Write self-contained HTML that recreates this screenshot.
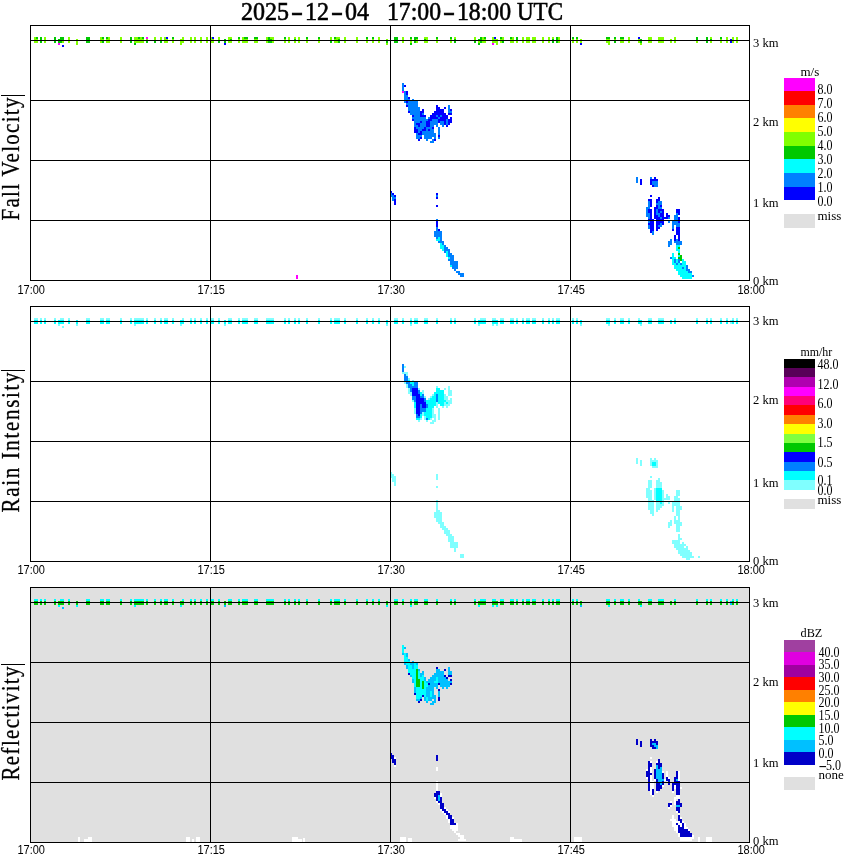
<!DOCTYPE html>
<html lang="en"><head><meta charset="utf-8"><title>MRR 2025-12-04 17:00-18:00 UTC</title>
<style>
html,body{margin:0;padding:0;background:#fff}
body{width:850px;height:868px;position:relative;overflow:hidden;font-family:'Liberation Serif',serif}
svg{display:block}
text{white-space:pre}
</style></head><body>
<svg width="850" height="868" viewBox="0 0 850 868" shape-rendering="crispEdges" style="position:absolute;left:0;top:0">
<rect x="0" y="0" width="850" height="868" fill="#fff"/>
<rect x="30" y="587" width="720" height="256" fill="#e0e0e0"/>
<g id="data0">
<rect x="34" y="37" width="2" height="2" fill="#80ff00"/>
<rect x="36" y="37" width="2" height="2" fill="#00c800"/>
<rect x="40" y="37" width="2" height="2" fill="#00c800"/>
<rect x="44" y="37" width="2" height="2" fill="#80ff00"/>
<rect x="54" y="37" width="2" height="2" fill="#00c800"/>
<rect x="60" y="37" width="4" height="2" fill="#00c800"/>
<rect x="68" y="37" width="2" height="2" fill="#80ff00"/>
<rect x="86" y="37" width="4" height="2" fill="#00c800"/>
<rect x="100" y="37" width="2" height="2" fill="#80ff00"/>
<rect x="102" y="37" width="2" height="2" fill="#00c800"/>
<rect x="106" y="37" width="2" height="2" fill="#00c800"/>
<rect x="108" y="37" width="2" height="2" fill="#80ff00"/>
<rect x="120" y="37" width="2" height="2" fill="#80ff00"/>
<rect x="130" y="37" width="2" height="2" fill="#00c800"/>
<rect x="134" y="37" width="4" height="2" fill="#80ff00"/>
<rect x="138" y="37" width="2" height="2" fill="#00c800"/>
<rect x="140" y="37" width="2" height="2" fill="#80ff00"/>
<rect x="142" y="37" width="2" height="2" fill="#00c800"/>
<rect x="146" y="37" width="2" height="2" fill="#ff00ff"/>
<rect x="154" y="37" width="2" height="2" fill="#80ff00"/>
<rect x="160" y="37" width="2" height="2" fill="#80ff00"/>
<rect x="164" y="37" width="2" height="2" fill="#80ff00"/>
<rect x="166" y="37" width="2" height="2" fill="#0000ff"/>
<rect x="172" y="37" width="2" height="2" fill="#00c800"/>
<rect x="182" y="37" width="2" height="2" fill="#80ff00"/>
<rect x="190" y="37" width="2" height="2" fill="#80ff00"/>
<rect x="194" y="37" width="2" height="2" fill="#80ff00"/>
<rect x="200" y="37" width="2" height="2" fill="#80ff00"/>
<rect x="206" y="37" width="2" height="2" fill="#80ff00"/>
<rect x="210" y="37" width="2" height="2" fill="#80ff00"/>
<rect x="212" y="37" width="2" height="2" fill="#0000ff"/>
<rect x="218" y="37" width="2" height="2" fill="#80ff00"/>
<rect x="228" y="37" width="4" height="2" fill="#80ff00"/>
<rect x="238" y="37" width="2" height="2" fill="#00c800"/>
<rect x="242" y="37" width="2" height="2" fill="#80ff00"/>
<rect x="244" y="37" width="4" height="2" fill="#00c800"/>
<rect x="254" y="37" width="4" height="2" fill="#00c800"/>
<rect x="266" y="37" width="2" height="2" fill="#80ff00"/>
<rect x="268" y="37" width="2" height="2" fill="#00c800"/>
<rect x="270" y="37" width="4" height="2" fill="#80ff00"/>
<rect x="284" y="37" width="2" height="2" fill="#00c800"/>
<rect x="288" y="37" width="2" height="2" fill="#80ff00"/>
<rect x="294" y="37" width="2" height="2" fill="#80ff00"/>
<rect x="298" y="37" width="2" height="2" fill="#80ff00"/>
<rect x="306" y="37" width="2" height="2" fill="#00c800"/>
<rect x="318" y="37" width="2" height="2" fill="#00c800"/>
<rect x="330" y="37" width="2" height="2" fill="#80ff00"/>
<rect x="334" y="37" width="2" height="2" fill="#00c800"/>
<rect x="336" y="37" width="4" height="2" fill="#80ff00"/>
<rect x="344" y="37" width="2" height="2" fill="#80ff00"/>
<rect x="356" y="37" width="2" height="2" fill="#80ff00"/>
<rect x="366" y="37" width="2" height="2" fill="#00c800"/>
<rect x="372" y="37" width="2" height="2" fill="#00c800"/>
<rect x="378" y="37" width="2" height="2" fill="#80ff00"/>
<rect x="394" y="37" width="4" height="2" fill="#00c800"/>
<rect x="402" y="37" width="2" height="2" fill="#80ff00"/>
<rect x="410" y="37" width="2" height="2" fill="#00c800"/>
<rect x="414" y="37" width="4" height="2" fill="#00c800"/>
<rect x="424" y="37" width="4" height="2" fill="#80ff00"/>
<rect x="436" y="37" width="2" height="2" fill="#00c800"/>
<rect x="450" y="37" width="2" height="2" fill="#00c800"/>
<rect x="454" y="37" width="2" height="2" fill="#80ff00"/>
<rect x="474" y="37" width="2" height="2" fill="#80ff00"/>
<rect x="480" y="37" width="2" height="2" fill="#00c800"/>
<rect x="482" y="37" width="2" height="2" fill="#80ff00"/>
<rect x="484" y="37" width="2" height="2" fill="#00c800"/>
<rect x="492" y="37" width="2" height="2" fill="#80ff00"/>
<rect x="494" y="37" width="2" height="2" fill="#0000ff"/>
<rect x="500" y="37" width="2" height="2" fill="#00c800"/>
<rect x="502" y="37" width="2" height="2" fill="#80ff00"/>
<rect x="510" y="37" width="2" height="2" fill="#00c800"/>
<rect x="512" y="37" width="2" height="2" fill="#80ff00"/>
<rect x="516" y="37" width="2" height="2" fill="#00c800"/>
<rect x="522" y="37" width="2" height="2" fill="#80ff00"/>
<rect x="526" y="37" width="4" height="2" fill="#80ff00"/>
<rect x="532" y="37" width="4" height="2" fill="#80ff00"/>
<rect x="542" y="37" width="2" height="2" fill="#80ff00"/>
<rect x="548" y="37" width="2" height="2" fill="#80ff00"/>
<rect x="552" y="37" width="2" height="2" fill="#80ff00"/>
<rect x="556" y="37" width="2" height="2" fill="#00c800"/>
<rect x="558" y="37" width="2" height="2" fill="#80ff00"/>
<rect x="572" y="37" width="2" height="2" fill="#00c800"/>
<rect x="576" y="37" width="2" height="2" fill="#00c800"/>
<rect x="606" y="37" width="4" height="2" fill="#00c800"/>
<rect x="614" y="37" width="2" height="2" fill="#00c800"/>
<rect x="620" y="37" width="4" height="2" fill="#00c800"/>
<rect x="628" y="37" width="2" height="2" fill="#80ff00"/>
<rect x="638" y="37" width="2" height="2" fill="#0000ff"/>
<rect x="648" y="37" width="4" height="2" fill="#80ff00"/>
<rect x="658" y="37" width="6" height="2" fill="#80ff00"/>
<rect x="674" y="37" width="2" height="2" fill="#80ff00"/>
<rect x="696" y="37" width="2" height="2" fill="#00c800"/>
<rect x="706" y="37" width="2" height="2" fill="#00c800"/>
<rect x="710" y="37" width="2" height="2" fill="#80ff00"/>
<rect x="720" y="37" width="2" height="2" fill="#00c800"/>
<rect x="726" y="37" width="2" height="2" fill="#80ff00"/>
<rect x="732" y="37" width="2" height="2" fill="#80ff00"/>
<rect x="736" y="37" width="2" height="2" fill="#80ff00"/>
<rect x="34" y="39" width="4" height="2" fill="#80ff00"/>
<rect x="40" y="39" width="2" height="2" fill="#00c800"/>
<rect x="44" y="39" width="2" height="2" fill="#80ff00"/>
<rect x="54" y="39" width="2" height="2" fill="#00c800"/>
<rect x="58" y="39" width="6" height="2" fill="#00c800"/>
<rect x="68" y="39" width="2" height="2" fill="#80ff00"/>
<rect x="76" y="39" width="2" height="2" fill="#80ff00"/>
<rect x="86" y="39" width="4" height="2" fill="#00c800"/>
<rect x="100" y="39" width="4" height="2" fill="#80ff00"/>
<rect x="106" y="39" width="4" height="2" fill="#80ff00"/>
<rect x="120" y="39" width="2" height="2" fill="#80ff00"/>
<rect x="130" y="39" width="2" height="2" fill="#00c800"/>
<rect x="134" y="39" width="10" height="2" fill="#80ff00"/>
<rect x="146" y="39" width="2" height="2" fill="#80ff00"/>
<rect x="154" y="39" width="2" height="2" fill="#80ff00"/>
<rect x="160" y="39" width="2" height="2" fill="#80ff00"/>
<rect x="164" y="39" width="4" height="2" fill="#80ff00"/>
<rect x="172" y="39" width="2" height="2" fill="#80ff00"/>
<rect x="180" y="39" width="4" height="2" fill="#80ff00"/>
<rect x="190" y="39" width="2" height="2" fill="#80ff00"/>
<rect x="194" y="39" width="2" height="2" fill="#80ff00"/>
<rect x="200" y="39" width="2" height="2" fill="#80ff00"/>
<rect x="206" y="39" width="2" height="2" fill="#80ff00"/>
<rect x="210" y="39" width="4" height="2" fill="#80ff00"/>
<rect x="218" y="39" width="2" height="2" fill="#80ff00"/>
<rect x="224" y="39" width="2" height="2" fill="#00c800"/>
<rect x="228" y="39" width="2" height="2" fill="#80ff00"/>
<rect x="230" y="39" width="2" height="2" fill="#00c800"/>
<rect x="238" y="39" width="2" height="2" fill="#80ff00"/>
<rect x="242" y="39" width="6" height="2" fill="#80ff00"/>
<rect x="254" y="39" width="4" height="2" fill="#80ff00"/>
<rect x="266" y="39" width="2" height="2" fill="#80ff00"/>
<rect x="268" y="39" width="4" height="2" fill="#00c800"/>
<rect x="272" y="39" width="2" height="2" fill="#80ff00"/>
<rect x="284" y="39" width="2" height="2" fill="#80ff00"/>
<rect x="288" y="39" width="2" height="2" fill="#80ff00"/>
<rect x="294" y="39" width="2" height="2" fill="#00c800"/>
<rect x="298" y="39" width="2" height="2" fill="#80ff00"/>
<rect x="306" y="39" width="2" height="2" fill="#80ff00"/>
<rect x="318" y="39" width="2" height="2" fill="#80ff00"/>
<rect x="330" y="39" width="2" height="2" fill="#80ff00"/>
<rect x="334" y="39" width="4" height="2" fill="#80ff00"/>
<rect x="338" y="39" width="2" height="2" fill="#00c800"/>
<rect x="344" y="39" width="2" height="2" fill="#80ff00"/>
<rect x="356" y="39" width="2" height="2" fill="#80ff00"/>
<rect x="366" y="39" width="2" height="2" fill="#80ff00"/>
<rect x="372" y="39" width="2" height="2" fill="#80ff00"/>
<rect x="378" y="39" width="2" height="2" fill="#80ff00"/>
<rect x="386" y="39" width="2" height="2" fill="#80ff00"/>
<rect x="394" y="39" width="4" height="2" fill="#00c800"/>
<rect x="402" y="39" width="2" height="2" fill="#80ff00"/>
<rect x="410" y="39" width="2" height="2" fill="#80ff00"/>
<rect x="414" y="39" width="2" height="2" fill="#00c800"/>
<rect x="416" y="39" width="2" height="2" fill="#80ff00"/>
<rect x="424" y="39" width="2" height="2" fill="#00c800"/>
<rect x="426" y="39" width="2" height="2" fill="#80ff00"/>
<rect x="436" y="39" width="2" height="2" fill="#80ff00"/>
<rect x="450" y="39" width="2" height="2" fill="#80ff00"/>
<rect x="454" y="39" width="2" height="2" fill="#00c800"/>
<rect x="474" y="39" width="2" height="2" fill="#80ff00"/>
<rect x="478" y="39" width="4" height="2" fill="#00c800"/>
<rect x="482" y="39" width="4" height="2" fill="#80ff00"/>
<rect x="492" y="39" width="6" height="2" fill="#80ff00"/>
<rect x="500" y="39" width="4" height="2" fill="#80ff00"/>
<rect x="510" y="39" width="4" height="2" fill="#80ff00"/>
<rect x="516" y="39" width="2" height="2" fill="#00c800"/>
<rect x="522" y="39" width="2" height="2" fill="#80ff00"/>
<rect x="526" y="39" width="4" height="2" fill="#80ff00"/>
<rect x="532" y="39" width="4" height="2" fill="#80ff00"/>
<rect x="542" y="39" width="2" height="2" fill="#80ff00"/>
<rect x="548" y="39" width="2" height="2" fill="#80ff00"/>
<rect x="552" y="39" width="2" height="2" fill="#00c800"/>
<rect x="556" y="39" width="2" height="2" fill="#00c800"/>
<rect x="558" y="39" width="2" height="2" fill="#80ff00"/>
<rect x="572" y="39" width="2" height="2" fill="#80ff00"/>
<rect x="576" y="39" width="2" height="2" fill="#80ff00"/>
<rect x="580" y="39" width="2" height="2" fill="#80ff00"/>
<rect x="606" y="39" width="4" height="2" fill="#80ff00"/>
<rect x="614" y="39" width="2" height="2" fill="#80ff00"/>
<rect x="620" y="39" width="4" height="2" fill="#80ff00"/>
<rect x="628" y="39" width="2" height="2" fill="#80ff00"/>
<rect x="638" y="39" width="2" height="2" fill="#80ff00"/>
<rect x="640" y="39" width="2" height="2" fill="#00c800"/>
<rect x="648" y="39" width="4" height="2" fill="#80ff00"/>
<rect x="658" y="39" width="6" height="2" fill="#80ff00"/>
<rect x="670" y="39" width="2" height="2" fill="#80ff00"/>
<rect x="674" y="39" width="2" height="2" fill="#80ff00"/>
<rect x="696" y="39" width="2" height="2" fill="#00c800"/>
<rect x="706" y="39" width="2" height="2" fill="#00c800"/>
<rect x="710" y="39" width="2" height="2" fill="#00c800"/>
<rect x="720" y="39" width="2" height="2" fill="#80ff00"/>
<rect x="726" y="39" width="2" height="2" fill="#80ff00"/>
<rect x="730" y="39" width="2" height="2" fill="#0000ff"/>
<rect x="732" y="39" width="2" height="2" fill="#80ff00"/>
<rect x="736" y="39" width="2" height="2" fill="#80ff00"/>
<rect x="34" y="41" width="4" height="2" fill="#80ff00"/>
<rect x="40" y="41" width="2" height="2" fill="#00c800"/>
<rect x="44" y="41" width="2" height="2" fill="#80ff00"/>
<rect x="54" y="41" width="2" height="2" fill="#00c800"/>
<rect x="58" y="41" width="4" height="2" fill="#00c800"/>
<rect x="62" y="41" width="2" height="2" fill="#80ff00"/>
<rect x="68" y="41" width="2" height="2" fill="#80ff00"/>
<rect x="76" y="41" width="2" height="2" fill="#80ff00"/>
<rect x="86" y="41" width="4" height="2" fill="#00c800"/>
<rect x="100" y="41" width="2" height="2" fill="#80ff00"/>
<rect x="102" y="41" width="2" height="2" fill="#00c800"/>
<rect x="106" y="41" width="4" height="2" fill="#80ff00"/>
<rect x="120" y="41" width="2" height="2" fill="#80ff00"/>
<rect x="130" y="41" width="2" height="2" fill="#00c800"/>
<rect x="134" y="41" width="10" height="2" fill="#80ff00"/>
<rect x="146" y="41" width="2" height="2" fill="#00c800"/>
<rect x="154" y="41" width="2" height="2" fill="#00c800"/>
<rect x="160" y="41" width="2" height="2" fill="#00c800"/>
<rect x="164" y="41" width="4" height="2" fill="#80ff00"/>
<rect x="172" y="41" width="2" height="2" fill="#80ff00"/>
<rect x="180" y="41" width="4" height="2" fill="#80ff00"/>
<rect x="190" y="41" width="2" height="2" fill="#80ff00"/>
<rect x="194" y="41" width="2" height="2" fill="#80ff00"/>
<rect x="200" y="41" width="2" height="2" fill="#80ff00"/>
<rect x="206" y="41" width="2" height="2" fill="#80ff00"/>
<rect x="210" y="41" width="4" height="2" fill="#80ff00"/>
<rect x="218" y="41" width="2" height="2" fill="#00c800"/>
<rect x="224" y="41" width="2" height="2" fill="#00c800"/>
<rect x="228" y="41" width="4" height="2" fill="#80ff00"/>
<rect x="238" y="41" width="2" height="2" fill="#80ff00"/>
<rect x="242" y="41" width="6" height="2" fill="#80ff00"/>
<rect x="254" y="41" width="4" height="2" fill="#80ff00"/>
<rect x="266" y="41" width="2" height="2" fill="#80ff00"/>
<rect x="268" y="41" width="4" height="2" fill="#00c800"/>
<rect x="272" y="41" width="2" height="2" fill="#80ff00"/>
<rect x="284" y="41" width="2" height="2" fill="#80ff00"/>
<rect x="288" y="41" width="2" height="2" fill="#80ff00"/>
<rect x="294" y="41" width="2" height="2" fill="#80ff00"/>
<rect x="298" y="41" width="2" height="2" fill="#80ff00"/>
<rect x="306" y="41" width="2" height="2" fill="#80ff00"/>
<rect x="318" y="41" width="2" height="2" fill="#80ff00"/>
<rect x="330" y="41" width="2" height="2" fill="#00c800"/>
<rect x="334" y="41" width="4" height="2" fill="#80ff00"/>
<rect x="338" y="41" width="2" height="2" fill="#00c800"/>
<rect x="344" y="41" width="2" height="2" fill="#80ff00"/>
<rect x="356" y="41" width="2" height="2" fill="#80ff00"/>
<rect x="366" y="41" width="2" height="2" fill="#80ff00"/>
<rect x="372" y="41" width="2" height="2" fill="#80ff00"/>
<rect x="378" y="41" width="2" height="2" fill="#80ff00"/>
<rect x="386" y="41" width="2" height="2" fill="#00c800"/>
<rect x="394" y="41" width="4" height="2" fill="#00c800"/>
<rect x="402" y="41" width="2" height="2" fill="#80ff00"/>
<rect x="410" y="41" width="2" height="2" fill="#80ff00"/>
<rect x="414" y="41" width="2" height="2" fill="#00c800"/>
<rect x="416" y="41" width="2" height="2" fill="#80ff00"/>
<rect x="424" y="41" width="4" height="2" fill="#80ff00"/>
<rect x="436" y="41" width="2" height="2" fill="#80ff00"/>
<rect x="450" y="41" width="2" height="2" fill="#80ff00"/>
<rect x="454" y="41" width="2" height="2" fill="#00c800"/>
<rect x="474" y="41" width="2" height="2" fill="#00c800"/>
<rect x="478" y="41" width="2" height="2" fill="#80ff00"/>
<rect x="480" y="41" width="2" height="2" fill="#00c800"/>
<rect x="482" y="41" width="4" height="2" fill="#80ff00"/>
<rect x="492" y="41" width="6" height="2" fill="#80ff00"/>
<rect x="500" y="41" width="2" height="2" fill="#80ff00"/>
<rect x="502" y="41" width="2" height="2" fill="#00c800"/>
<rect x="510" y="41" width="4" height="2" fill="#80ff00"/>
<rect x="516" y="41" width="2" height="2" fill="#80ff00"/>
<rect x="522" y="41" width="2" height="2" fill="#80ff00"/>
<rect x="526" y="41" width="4" height="2" fill="#80ff00"/>
<rect x="532" y="41" width="4" height="2" fill="#80ff00"/>
<rect x="542" y="41" width="2" height="2" fill="#80ff00"/>
<rect x="548" y="41" width="2" height="2" fill="#80ff00"/>
<rect x="552" y="41" width="2" height="2" fill="#00c800"/>
<rect x="556" y="41" width="2" height="2" fill="#00c800"/>
<rect x="558" y="41" width="2" height="2" fill="#80ff00"/>
<rect x="572" y="41" width="2" height="2" fill="#80ff00"/>
<rect x="576" y="41" width="2" height="2" fill="#80ff00"/>
<rect x="580" y="41" width="2" height="2" fill="#80ff00"/>
<rect x="606" y="41" width="4" height="2" fill="#80ff00"/>
<rect x="614" y="41" width="2" height="2" fill="#00c800"/>
<rect x="620" y="41" width="4" height="2" fill="#80ff00"/>
<rect x="628" y="41" width="2" height="2" fill="#80ff00"/>
<rect x="638" y="41" width="2" height="2" fill="#80ff00"/>
<rect x="640" y="41" width="2" height="2" fill="#00c800"/>
<rect x="648" y="41" width="4" height="2" fill="#80ff00"/>
<rect x="658" y="41" width="6" height="2" fill="#80ff00"/>
<rect x="670" y="41" width="2" height="2" fill="#80ff00"/>
<rect x="674" y="41" width="2" height="2" fill="#80ff00"/>
<rect x="696" y="41" width="2" height="2" fill="#80ff00"/>
<rect x="706" y="41" width="2" height="2" fill="#00c800"/>
<rect x="710" y="41" width="2" height="2" fill="#80ff00"/>
<rect x="720" y="41" width="2" height="2" fill="#80ff00"/>
<rect x="726" y="41" width="2" height="2" fill="#80ff00"/>
<rect x="730" y="41" width="2" height="2" fill="#0000ff"/>
<rect x="732" y="41" width="2" height="2" fill="#80ff00"/>
<rect x="736" y="41" width="2" height="2" fill="#80ff00"/>
<rect x="58" y="43" width="2" height="2" fill="#ff00ff"/>
<rect x="76" y="43" width="2" height="2" fill="#80ff00"/>
<rect x="134" y="43" width="2" height="2" fill="#00c800"/>
<rect x="180" y="43" width="2" height="2" fill="#80ff00"/>
<rect x="224" y="43" width="2" height="2" fill="#0000ff"/>
<rect x="386" y="43" width="2" height="2" fill="#80ff00"/>
<rect x="410" y="43" width="2" height="2" fill="#00c800"/>
<rect x="478" y="43" width="2" height="2" fill="#00c800"/>
<rect x="492" y="43" width="2" height="2" fill="#ff00ff"/>
<rect x="496" y="43" width="2" height="2" fill="#80ff00"/>
<rect x="580" y="43" width="2" height="2" fill="#0000ff"/>
<rect x="608" y="43" width="2" height="2" fill="#80ff00"/>
<rect x="640" y="43" width="2" height="2" fill="#80ff00"/>
<rect x="62" y="45" width="2" height="2" fill="#0000ff"/>
<rect x="402" y="83" width="2" height="2" fill="#0080ff"/>
<rect x="402" y="85" width="2" height="2" fill="#0080ff"/>
<rect x="404" y="85" width="2" height="2" fill="#0000ff"/>
<rect x="402" y="87" width="2" height="2" fill="#0080ff"/>
<rect x="402" y="89" width="2" height="2" fill="#0080ff"/>
<rect x="402" y="91" width="2" height="2" fill="#ff00ff"/>
<rect x="404" y="91" width="2" height="2" fill="#0080ff"/>
<rect x="406" y="91" width="2" height="2" fill="#0000ff"/>
<rect x="404" y="93" width="2" height="2" fill="#0080ff"/>
<rect x="406" y="93" width="2" height="2" fill="#0000ff"/>
<rect x="404" y="95" width="4" height="2" fill="#0080ff"/>
<rect x="404" y="97" width="4" height="2" fill="#0080ff"/>
<rect x="408" y="97" width="2" height="2" fill="#0000ff"/>
<rect x="404" y="99" width="6" height="2" fill="#0080ff"/>
<rect x="412" y="99" width="2" height="2" fill="#0080ff"/>
<rect x="404" y="101" width="2" height="2" fill="#0080ff"/>
<rect x="406" y="101" width="2" height="2" fill="#0000ff"/>
<rect x="408" y="101" width="10" height="2" fill="#0080ff"/>
<rect x="406" y="103" width="12" height="2" fill="#0080ff"/>
<rect x="406" y="105" width="2" height="2" fill="#0000ff"/>
<rect x="408" y="105" width="10" height="2" fill="#0080ff"/>
<rect x="436" y="105" width="2" height="2" fill="#0000ff"/>
<rect x="448" y="105" width="2" height="2" fill="#0080ff"/>
<rect x="408" y="107" width="12" height="2" fill="#0080ff"/>
<rect x="436" y="107" width="4" height="2" fill="#0000ff"/>
<rect x="444" y="107" width="2" height="2" fill="#0000ff"/>
<rect x="448" y="107" width="2" height="2" fill="#0080ff"/>
<rect x="408" y="109" width="12" height="2" fill="#0080ff"/>
<rect x="422" y="109" width="2" height="2" fill="#0000ff"/>
<rect x="436" y="109" width="8" height="2" fill="#0000ff"/>
<rect x="448" y="109" width="2" height="2" fill="#0080ff"/>
<rect x="450" y="109" width="2" height="2" fill="#0000ff"/>
<rect x="408" y="111" width="2" height="2" fill="#0000ff"/>
<rect x="410" y="111" width="10" height="2" fill="#0080ff"/>
<rect x="420" y="111" width="4" height="2" fill="#0000ff"/>
<rect x="434" y="111" width="10" height="2" fill="#0000ff"/>
<rect x="448" y="111" width="4" height="2" fill="#0080ff"/>
<rect x="410" y="113" width="10" height="2" fill="#0080ff"/>
<rect x="420" y="113" width="2" height="2" fill="#0000ff"/>
<rect x="422" y="113" width="2" height="2" fill="#0080ff"/>
<rect x="432" y="113" width="14" height="2" fill="#0000ff"/>
<rect x="448" y="113" width="4" height="2" fill="#0000ff"/>
<rect x="412" y="115" width="2" height="2" fill="#0000ff"/>
<rect x="414" y="115" width="6" height="2" fill="#0080ff"/>
<rect x="420" y="115" width="6" height="2" fill="#0000ff"/>
<rect x="430" y="115" width="6" height="2" fill="#0000ff"/>
<rect x="436" y="115" width="2" height="2" fill="#0080ff"/>
<rect x="438" y="115" width="2" height="2" fill="#0000ff"/>
<rect x="440" y="115" width="2" height="2" fill="#0080ff"/>
<rect x="442" y="115" width="6" height="2" fill="#0000ff"/>
<rect x="412" y="117" width="14" height="2" fill="#0080ff"/>
<rect x="428" y="117" width="2" height="2" fill="#0080ff"/>
<rect x="430" y="117" width="8" height="2" fill="#0000ff"/>
<rect x="438" y="117" width="2" height="2" fill="#0080ff"/>
<rect x="440" y="117" width="8" height="2" fill="#0000ff"/>
<rect x="450" y="117" width="2" height="2" fill="#0000ff"/>
<rect x="412" y="119" width="2" height="2" fill="#0000ff"/>
<rect x="414" y="119" width="14" height="2" fill="#0080ff"/>
<rect x="428" y="119" width="4" height="2" fill="#0000ff"/>
<rect x="432" y="119" width="6" height="2" fill="#0080ff"/>
<rect x="438" y="119" width="8" height="2" fill="#0000ff"/>
<rect x="446" y="119" width="2" height="2" fill="#0080ff"/>
<rect x="448" y="119" width="4" height="2" fill="#0000ff"/>
<rect x="414" y="121" width="6" height="2" fill="#0080ff"/>
<rect x="420" y="121" width="2" height="2" fill="#0000ff"/>
<rect x="422" y="121" width="4" height="2" fill="#0080ff"/>
<rect x="426" y="121" width="4" height="2" fill="#0000ff"/>
<rect x="430" y="121" width="8" height="2" fill="#0080ff"/>
<rect x="438" y="121" width="2" height="2" fill="#0000ff"/>
<rect x="440" y="121" width="4" height="2" fill="#0080ff"/>
<rect x="444" y="121" width="2" height="2" fill="#0000ff"/>
<rect x="446" y="121" width="2" height="2" fill="#0080ff"/>
<rect x="448" y="121" width="4" height="2" fill="#0000ff"/>
<rect x="414" y="123" width="2" height="2" fill="#0080ff"/>
<rect x="416" y="123" width="4" height="2" fill="#0000ff"/>
<rect x="420" y="123" width="6" height="2" fill="#0080ff"/>
<rect x="426" y="123" width="4" height="2" fill="#0000ff"/>
<rect x="430" y="123" width="8" height="2" fill="#0080ff"/>
<rect x="440" y="123" width="4" height="2" fill="#0080ff"/>
<rect x="444" y="123" width="2" height="2" fill="#0000ff"/>
<rect x="446" y="123" width="2" height="2" fill="#0080ff"/>
<rect x="448" y="123" width="2" height="2" fill="#0000ff"/>
<rect x="414" y="125" width="4" height="2" fill="#0080ff"/>
<rect x="418" y="125" width="2" height="2" fill="#0000ff"/>
<rect x="420" y="125" width="6" height="2" fill="#0080ff"/>
<rect x="426" y="125" width="4" height="2" fill="#0000ff"/>
<rect x="430" y="125" width="4" height="2" fill="#0080ff"/>
<rect x="436" y="125" width="2" height="2" fill="#0080ff"/>
<rect x="442" y="125" width="2" height="2" fill="#0080ff"/>
<rect x="446" y="125" width="2" height="2" fill="#0000ff"/>
<rect x="414" y="127" width="2" height="2" fill="#0000ff"/>
<rect x="416" y="127" width="8" height="2" fill="#0080ff"/>
<rect x="424" y="127" width="2" height="2" fill="#0000ff"/>
<rect x="426" y="127" width="6" height="2" fill="#0080ff"/>
<rect x="432" y="127" width="2" height="2" fill="#0000ff"/>
<rect x="438" y="127" width="2" height="2" fill="#0080ff"/>
<rect x="414" y="129" width="4" height="2" fill="#0000ff"/>
<rect x="418" y="129" width="4" height="2" fill="#0080ff"/>
<rect x="422" y="129" width="4" height="2" fill="#0000ff"/>
<rect x="426" y="129" width="2" height="2" fill="#0080ff"/>
<rect x="428" y="129" width="2" height="2" fill="#0000ff"/>
<rect x="430" y="129" width="4" height="2" fill="#0080ff"/>
<rect x="438" y="129" width="2" height="2" fill="#0080ff"/>
<rect x="414" y="131" width="4" height="2" fill="#0000ff"/>
<rect x="418" y="131" width="2" height="2" fill="#0080ff"/>
<rect x="420" y="131" width="2" height="2" fill="#0000ff"/>
<rect x="422" y="131" width="12" height="2" fill="#0080ff"/>
<rect x="438" y="131" width="2" height="2" fill="#0080ff"/>
<rect x="416" y="133" width="2" height="2" fill="#0080ff"/>
<rect x="418" y="133" width="4" height="2" fill="#0000ff"/>
<rect x="422" y="133" width="14" height="2" fill="#0080ff"/>
<rect x="438" y="133" width="2" height="2" fill="#0080ff"/>
<rect x="416" y="135" width="6" height="2" fill="#0080ff"/>
<rect x="424" y="135" width="12" height="2" fill="#0080ff"/>
<rect x="438" y="135" width="2" height="2" fill="#0000ff"/>
<rect x="416" y="137" width="4" height="2" fill="#0080ff"/>
<rect x="420" y="137" width="2" height="2" fill="#0000ff"/>
<rect x="424" y="137" width="8" height="2" fill="#0080ff"/>
<rect x="434" y="137" width="2" height="2" fill="#0080ff"/>
<rect x="438" y="137" width="2" height="2" fill="#0080ff"/>
<rect x="418" y="139" width="2" height="2" fill="#0000ff"/>
<rect x="426" y="139" width="2" height="2" fill="#0080ff"/>
<rect x="432" y="139" width="2" height="2" fill="#0080ff"/>
<rect x="434" y="139" width="2" height="2" fill="#0000ff"/>
<rect x="430" y="141" width="4" height="2" fill="#0080ff"/>
<rect x="636" y="177" width="2" height="2" fill="#0080ff"/>
<rect x="650" y="177" width="2" height="2" fill="#0080ff"/>
<rect x="654" y="177" width="2" height="2" fill="#0000ff"/>
<rect x="636" y="179" width="2" height="2" fill="#0080ff"/>
<rect x="640" y="179" width="2" height="2" fill="#0000ff"/>
<rect x="650" y="179" width="8" height="2" fill="#0000ff"/>
<rect x="636" y="181" width="2" height="2" fill="#0080ff"/>
<rect x="640" y="181" width="2" height="2" fill="#0000ff"/>
<rect x="650" y="181" width="2" height="2" fill="#0000ff"/>
<rect x="652" y="181" width="6" height="2" fill="#0080ff"/>
<rect x="640" y="183" width="2" height="2" fill="#0000ff"/>
<rect x="650" y="183" width="2" height="2" fill="#0000ff"/>
<rect x="652" y="183" width="6" height="2" fill="#0080ff"/>
<rect x="652" y="185" width="2" height="2" fill="#0000ff"/>
<rect x="654" y="185" width="4" height="2" fill="#0080ff"/>
<rect x="390" y="191" width="2" height="2" fill="#0000ff"/>
<rect x="390" y="193" width="2" height="2" fill="#0080ff"/>
<rect x="392" y="193" width="2" height="2" fill="#0000ff"/>
<rect x="436" y="193" width="2" height="2" fill="#0000ff"/>
<rect x="390" y="195" width="4" height="2" fill="#0080ff"/>
<rect x="394" y="195" width="2" height="2" fill="#0000ff"/>
<rect x="436" y="195" width="2" height="2" fill="#0080ff"/>
<rect x="650" y="195" width="2" height="2" fill="#0000ff"/>
<rect x="392" y="197" width="4" height="2" fill="#0080ff"/>
<rect x="436" y="197" width="2" height="2" fill="#0000ff"/>
<rect x="658" y="197" width="2" height="2" fill="#0000ff"/>
<rect x="392" y="199" width="2" height="2" fill="#0080ff"/>
<rect x="394" y="199" width="2" height="2" fill="#0000ff"/>
<rect x="648" y="199" width="4" height="2" fill="#0000ff"/>
<rect x="656" y="199" width="4" height="2" fill="#0000ff"/>
<rect x="394" y="201" width="2" height="2" fill="#0000ff"/>
<rect x="648" y="201" width="2" height="2" fill="#0080ff"/>
<rect x="650" y="201" width="2" height="2" fill="#0000ff"/>
<rect x="656" y="201" width="2" height="2" fill="#0000ff"/>
<rect x="658" y="201" width="4" height="2" fill="#0080ff"/>
<rect x="394" y="203" width="2" height="2" fill="#0000ff"/>
<rect x="648" y="203" width="2" height="2" fill="#0080ff"/>
<rect x="650" y="203" width="2" height="2" fill="#0000ff"/>
<rect x="656" y="203" width="6" height="2" fill="#0080ff"/>
<rect x="436" y="205" width="2" height="2" fill="#0000ff"/>
<rect x="648" y="205" width="2" height="2" fill="#0080ff"/>
<rect x="650" y="205" width="2" height="2" fill="#0000ff"/>
<rect x="656" y="205" width="2" height="2" fill="#0000ff"/>
<rect x="658" y="205" width="2" height="2" fill="#0080ff"/>
<rect x="660" y="205" width="2" height="2" fill="#0000ff"/>
<rect x="646" y="207" width="4" height="2" fill="#0080ff"/>
<rect x="654" y="207" width="4" height="2" fill="#0000ff"/>
<rect x="658" y="207" width="4" height="2" fill="#0080ff"/>
<rect x="646" y="209" width="2" height="2" fill="#0080ff"/>
<rect x="648" y="209" width="4" height="2" fill="#0000ff"/>
<rect x="654" y="209" width="2" height="2" fill="#0000ff"/>
<rect x="656" y="209" width="2" height="2" fill="#0080ff"/>
<rect x="658" y="209" width="6" height="2" fill="#0000ff"/>
<rect x="676" y="209" width="4" height="2" fill="#0000ff"/>
<rect x="646" y="211" width="2" height="2" fill="#0080ff"/>
<rect x="648" y="211" width="4" height="2" fill="#0000ff"/>
<rect x="654" y="211" width="2" height="2" fill="#0000ff"/>
<rect x="656" y="211" width="2" height="2" fill="#0080ff"/>
<rect x="658" y="211" width="2" height="2" fill="#0000ff"/>
<rect x="660" y="211" width="2" height="2" fill="#0080ff"/>
<rect x="662" y="211" width="2" height="2" fill="#0000ff"/>
<rect x="676" y="211" width="4" height="2" fill="#0000ff"/>
<rect x="646" y="213" width="4" height="2" fill="#0080ff"/>
<rect x="650" y="213" width="2" height="2" fill="#0000ff"/>
<rect x="654" y="213" width="2" height="2" fill="#0000ff"/>
<rect x="656" y="213" width="4" height="2" fill="#0080ff"/>
<rect x="660" y="213" width="4" height="2" fill="#0000ff"/>
<rect x="666" y="213" width="2" height="2" fill="#0000ff"/>
<rect x="676" y="213" width="2" height="2" fill="#0080ff"/>
<rect x="678" y="213" width="2" height="2" fill="#0000ff"/>
<rect x="646" y="215" width="4" height="2" fill="#0080ff"/>
<rect x="650" y="215" width="2" height="2" fill="#0000ff"/>
<rect x="654" y="215" width="4" height="2" fill="#0000ff"/>
<rect x="658" y="215" width="2" height="2" fill="#0080ff"/>
<rect x="660" y="215" width="4" height="2" fill="#0000ff"/>
<rect x="666" y="215" width="4" height="2" fill="#0000ff"/>
<rect x="674" y="215" width="4" height="2" fill="#0080ff"/>
<rect x="648" y="217" width="2" height="2" fill="#0080ff"/>
<rect x="650" y="217" width="2" height="2" fill="#0000ff"/>
<rect x="654" y="217" width="6" height="2" fill="#0000ff"/>
<rect x="660" y="217" width="2" height="2" fill="#0080ff"/>
<rect x="662" y="217" width="6" height="2" fill="#0000ff"/>
<rect x="668" y="217" width="2" height="2" fill="#0080ff"/>
<rect x="674" y="217" width="4" height="2" fill="#0080ff"/>
<rect x="678" y="217" width="2" height="2" fill="#0000ff"/>
<rect x="436" y="219" width="2" height="2" fill="#0080ff"/>
<rect x="648" y="219" width="6" height="2" fill="#0000ff"/>
<rect x="656" y="219" width="8" height="2" fill="#0000ff"/>
<rect x="674" y="219" width="4" height="2" fill="#0080ff"/>
<rect x="678" y="219" width="2" height="2" fill="#0000ff"/>
<rect x="436" y="221" width="2" height="2" fill="#0000ff"/>
<rect x="648" y="221" width="2" height="2" fill="#0080ff"/>
<rect x="650" y="221" width="4" height="2" fill="#0000ff"/>
<rect x="656" y="221" width="8" height="2" fill="#0000ff"/>
<rect x="668" y="221" width="2" height="2" fill="#0080ff"/>
<rect x="672" y="221" width="6" height="2" fill="#0080ff"/>
<rect x="678" y="221" width="2" height="2" fill="#0000ff"/>
<rect x="436" y="223" width="2" height="2" fill="#0000ff"/>
<rect x="648" y="223" width="6" height="2" fill="#0000ff"/>
<rect x="656" y="223" width="4" height="2" fill="#0000ff"/>
<rect x="660" y="223" width="2" height="2" fill="#0080ff"/>
<rect x="662" y="223" width="2" height="2" fill="#0000ff"/>
<rect x="672" y="223" width="8" height="2" fill="#0080ff"/>
<rect x="436" y="225" width="2" height="2" fill="#0000ff"/>
<rect x="648" y="225" width="2" height="2" fill="#0080ff"/>
<rect x="650" y="225" width="4" height="2" fill="#0000ff"/>
<rect x="656" y="225" width="2" height="2" fill="#0000ff"/>
<rect x="658" y="225" width="4" height="2" fill="#0080ff"/>
<rect x="672" y="225" width="2" height="2" fill="#0080ff"/>
<rect x="676" y="225" width="4" height="2" fill="#0080ff"/>
<rect x="436" y="227" width="2" height="2" fill="#0080ff"/>
<rect x="648" y="227" width="2" height="2" fill="#0080ff"/>
<rect x="650" y="227" width="4" height="2" fill="#0000ff"/>
<rect x="656" y="227" width="4" height="2" fill="#0000ff"/>
<rect x="672" y="227" width="2" height="2" fill="#0080ff"/>
<rect x="676" y="227" width="4" height="2" fill="#0000ff"/>
<rect x="436" y="229" width="2" height="2" fill="#0080ff"/>
<rect x="438" y="229" width="2" height="2" fill="#0000ff"/>
<rect x="650" y="229" width="4" height="2" fill="#0000ff"/>
<rect x="656" y="229" width="2" height="2" fill="#0000ff"/>
<rect x="672" y="229" width="2" height="2" fill="#0000ff"/>
<rect x="676" y="229" width="4" height="2" fill="#0000ff"/>
<rect x="434" y="231" width="8" height="2" fill="#0080ff"/>
<rect x="650" y="231" width="2" height="2" fill="#0000ff"/>
<rect x="652" y="231" width="2" height="2" fill="#0080ff"/>
<rect x="676" y="231" width="4" height="2" fill="#0000ff"/>
<rect x="434" y="233" width="8" height="2" fill="#0080ff"/>
<rect x="652" y="233" width="2" height="2" fill="#0080ff"/>
<rect x="676" y="233" width="4" height="2" fill="#0000ff"/>
<rect x="434" y="235" width="8" height="2" fill="#0080ff"/>
<rect x="674" y="235" width="2" height="2" fill="#0000ff"/>
<rect x="678" y="235" width="2" height="2" fill="#0000ff"/>
<rect x="436" y="237" width="2" height="2" fill="#0080ff"/>
<rect x="438" y="237" width="2" height="2" fill="#00ffff"/>
<rect x="440" y="237" width="2" height="2" fill="#0080ff"/>
<rect x="674" y="237" width="2" height="2" fill="#0000ff"/>
<rect x="678" y="237" width="2" height="2" fill="#0000ff"/>
<rect x="436" y="239" width="4" height="2" fill="#00ffff"/>
<rect x="440" y="239" width="2" height="2" fill="#0080ff"/>
<rect x="670" y="239" width="2" height="2" fill="#0080ff"/>
<rect x="674" y="239" width="2" height="2" fill="#0000ff"/>
<rect x="676" y="239" width="2" height="2" fill="#0080ff"/>
<rect x="678" y="239" width="2" height="2" fill="#0000ff"/>
<rect x="438" y="241" width="6" height="2" fill="#0080ff"/>
<rect x="668" y="241" width="4" height="2" fill="#0080ff"/>
<rect x="674" y="241" width="8" height="2" fill="#0080ff"/>
<rect x="440" y="243" width="2" height="2" fill="#00ffff"/>
<rect x="442" y="243" width="2" height="2" fill="#0080ff"/>
<rect x="668" y="243" width="4" height="2" fill="#0080ff"/>
<rect x="676" y="243" width="6" height="2" fill="#0080ff"/>
<rect x="440" y="245" width="4" height="2" fill="#00ffff"/>
<rect x="444" y="245" width="2" height="2" fill="#0080ff"/>
<rect x="668" y="245" width="2" height="2" fill="#0080ff"/>
<rect x="676" y="245" width="4" height="2" fill="#00ffff"/>
<rect x="440" y="247" width="4" height="2" fill="#00ffff"/>
<rect x="444" y="247" width="4" height="2" fill="#0080ff"/>
<rect x="676" y="247" width="2" height="2" fill="#00ffff"/>
<rect x="678" y="247" width="2" height="2" fill="#00c800"/>
<rect x="442" y="249" width="2" height="2" fill="#00ffff"/>
<rect x="444" y="249" width="6" height="2" fill="#0080ff"/>
<rect x="676" y="249" width="4" height="2" fill="#00ffff"/>
<rect x="444" y="251" width="2" height="2" fill="#0080ff"/>
<rect x="446" y="251" width="2" height="2" fill="#00ffff"/>
<rect x="448" y="251" width="2" height="2" fill="#0080ff"/>
<rect x="678" y="251" width="2" height="2" fill="#00ffff"/>
<rect x="446" y="253" width="2" height="2" fill="#00ffff"/>
<rect x="448" y="253" width="4" height="2" fill="#0080ff"/>
<rect x="672" y="253" width="2" height="2" fill="#00ffff"/>
<rect x="678" y="253" width="2" height="2" fill="#00c800"/>
<rect x="446" y="255" width="2" height="2" fill="#00ffff"/>
<rect x="448" y="255" width="6" height="2" fill="#0080ff"/>
<rect x="672" y="255" width="2" height="2" fill="#00ffff"/>
<rect x="678" y="255" width="2" height="2" fill="#00ffff"/>
<rect x="680" y="255" width="2" height="2" fill="#00c800"/>
<rect x="448" y="257" width="2" height="2" fill="#00ffff"/>
<rect x="450" y="257" width="4" height="2" fill="#0080ff"/>
<rect x="670" y="257" width="2" height="2" fill="#0080ff"/>
<rect x="672" y="257" width="4" height="2" fill="#00ffff"/>
<rect x="678" y="257" width="4" height="2" fill="#00c800"/>
<rect x="448" y="259" width="6" height="2" fill="#0080ff"/>
<rect x="672" y="259" width="2" height="2" fill="#00ffff"/>
<rect x="674" y="259" width="2" height="2" fill="#0080ff"/>
<rect x="676" y="259" width="2" height="2" fill="#00ffff"/>
<rect x="678" y="259" width="2" height="2" fill="#0080ff"/>
<rect x="680" y="259" width="2" height="2" fill="#00c800"/>
<rect x="682" y="259" width="2" height="2" fill="#00ffff"/>
<rect x="450" y="261" width="8" height="2" fill="#0080ff"/>
<rect x="672" y="261" width="2" height="2" fill="#00ffff"/>
<rect x="674" y="261" width="2" height="2" fill="#0080ff"/>
<rect x="676" y="261" width="2" height="2" fill="#00ffff"/>
<rect x="678" y="261" width="2" height="2" fill="#0080ff"/>
<rect x="682" y="261" width="4" height="2" fill="#00ffff"/>
<rect x="450" y="263" width="8" height="2" fill="#0080ff"/>
<rect x="672" y="263" width="4" height="2" fill="#00ffff"/>
<rect x="676" y="263" width="2" height="2" fill="#0080ff"/>
<rect x="678" y="263" width="2" height="2" fill="#00ffff"/>
<rect x="680" y="263" width="2" height="2" fill="#0080ff"/>
<rect x="682" y="263" width="4" height="2" fill="#00ffff"/>
<rect x="450" y="265" width="2" height="2" fill="#00ffff"/>
<rect x="452" y="265" width="6" height="2" fill="#0080ff"/>
<rect x="674" y="265" width="12" height="2" fill="#00ffff"/>
<rect x="686" y="265" width="2" height="2" fill="#0080ff"/>
<rect x="452" y="267" width="6" height="2" fill="#0080ff"/>
<rect x="674" y="267" width="8" height="2" fill="#00ffff"/>
<rect x="682" y="267" width="2" height="2" fill="#0080ff"/>
<rect x="684" y="267" width="2" height="2" fill="#00ffff"/>
<rect x="686" y="267" width="2" height="2" fill="#0080ff"/>
<rect x="454" y="269" width="2" height="2" fill="#0080ff"/>
<rect x="676" y="269" width="10" height="2" fill="#00ffff"/>
<rect x="686" y="269" width="4" height="2" fill="#0080ff"/>
<rect x="456" y="271" width="4" height="2" fill="#0080ff"/>
<rect x="678" y="271" width="10" height="2" fill="#00ffff"/>
<rect x="688" y="271" width="4" height="2" fill="#0080ff"/>
<rect x="458" y="273" width="6" height="2" fill="#0080ff"/>
<rect x="678" y="273" width="14" height="2" fill="#00ffff"/>
<rect x="296" y="275" width="2" height="2" fill="#ff00ff"/>
<rect x="460" y="275" width="4" height="2" fill="#0080ff"/>
<rect x="680" y="275" width="12" height="2" fill="#00ffff"/>
<rect x="692" y="275" width="2" height="2" fill="#0080ff"/>
<rect x="296" y="277" width="2" height="2" fill="#ff00ff"/>
<rect x="682" y="277" width="10" height="2" fill="#00ffff"/>
</g>
<g id="data1">
<rect x="34" y="318" width="4" height="2" fill="#80ffff"/>
<rect x="40" y="318" width="2" height="2" fill="#80ffff"/>
<rect x="44" y="318" width="2" height="2" fill="#80ffff"/>
<rect x="54" y="318" width="2" height="2" fill="#80ffff"/>
<rect x="60" y="318" width="4" height="2" fill="#80ffff"/>
<rect x="68" y="318" width="2" height="2" fill="#80ffff"/>
<rect x="86" y="318" width="4" height="2" fill="#80ffff"/>
<rect x="100" y="318" width="4" height="2" fill="#80ffff"/>
<rect x="106" y="318" width="4" height="2" fill="#80ffff"/>
<rect x="120" y="318" width="2" height="2" fill="#80ffff"/>
<rect x="130" y="318" width="2" height="2" fill="#80ffff"/>
<rect x="134" y="318" width="10" height="2" fill="#80ffff"/>
<rect x="146" y="318" width="2" height="2" fill="#80ffff"/>
<rect x="154" y="318" width="2" height="2" fill="#80ffff"/>
<rect x="160" y="318" width="2" height="2" fill="#80ffff"/>
<rect x="164" y="318" width="4" height="2" fill="#80ffff"/>
<rect x="172" y="318" width="2" height="2" fill="#80ffff"/>
<rect x="182" y="318" width="2" height="2" fill="#80ffff"/>
<rect x="190" y="318" width="2" height="2" fill="#80ffff"/>
<rect x="194" y="318" width="2" height="2" fill="#80ffff"/>
<rect x="200" y="318" width="2" height="2" fill="#80ffff"/>
<rect x="206" y="318" width="2" height="2" fill="#80ffff"/>
<rect x="210" y="318" width="4" height="2" fill="#80ffff"/>
<rect x="218" y="318" width="2" height="2" fill="#80ffff"/>
<rect x="228" y="318" width="4" height="2" fill="#80ffff"/>
<rect x="238" y="318" width="2" height="2" fill="#80ffff"/>
<rect x="242" y="318" width="6" height="2" fill="#80ffff"/>
<rect x="254" y="318" width="4" height="2" fill="#80ffff"/>
<rect x="266" y="318" width="8" height="2" fill="#80ffff"/>
<rect x="284" y="318" width="2" height="2" fill="#80ffff"/>
<rect x="288" y="318" width="2" height="2" fill="#80ffff"/>
<rect x="294" y="318" width="2" height="2" fill="#80ffff"/>
<rect x="298" y="318" width="2" height="2" fill="#80ffff"/>
<rect x="306" y="318" width="2" height="2" fill="#80ffff"/>
<rect x="318" y="318" width="2" height="2" fill="#80ffff"/>
<rect x="330" y="318" width="2" height="2" fill="#80ffff"/>
<rect x="334" y="318" width="6" height="2" fill="#80ffff"/>
<rect x="344" y="318" width="2" height="2" fill="#80ffff"/>
<rect x="356" y="318" width="2" height="2" fill="#80ffff"/>
<rect x="366" y="318" width="2" height="2" fill="#80ffff"/>
<rect x="372" y="318" width="2" height="2" fill="#80ffff"/>
<rect x="378" y="318" width="2" height="2" fill="#80ffff"/>
<rect x="394" y="318" width="4" height="2" fill="#80ffff"/>
<rect x="402" y="318" width="2" height="2" fill="#80ffff"/>
<rect x="410" y="318" width="2" height="2" fill="#80ffff"/>
<rect x="414" y="318" width="4" height="2" fill="#80ffff"/>
<rect x="424" y="318" width="4" height="2" fill="#80ffff"/>
<rect x="436" y="318" width="2" height="2" fill="#80ffff"/>
<rect x="450" y="318" width="2" height="2" fill="#80ffff"/>
<rect x="454" y="318" width="2" height="2" fill="#80ffff"/>
<rect x="474" y="318" width="2" height="2" fill="#80ffff"/>
<rect x="480" y="318" width="6" height="2" fill="#80ffff"/>
<rect x="492" y="318" width="4" height="2" fill="#80ffff"/>
<rect x="500" y="318" width="4" height="2" fill="#80ffff"/>
<rect x="510" y="318" width="4" height="2" fill="#80ffff"/>
<rect x="516" y="318" width="2" height="2" fill="#80ffff"/>
<rect x="522" y="318" width="2" height="2" fill="#80ffff"/>
<rect x="526" y="318" width="4" height="2" fill="#80ffff"/>
<rect x="532" y="318" width="4" height="2" fill="#80ffff"/>
<rect x="542" y="318" width="2" height="2" fill="#80ffff"/>
<rect x="548" y="318" width="2" height="2" fill="#80ffff"/>
<rect x="552" y="318" width="2" height="2" fill="#80ffff"/>
<rect x="556" y="318" width="4" height="2" fill="#80ffff"/>
<rect x="572" y="318" width="2" height="2" fill="#80ffff"/>
<rect x="576" y="318" width="2" height="2" fill="#80ffff"/>
<rect x="606" y="318" width="4" height="2" fill="#80ffff"/>
<rect x="614" y="318" width="2" height="2" fill="#80ffff"/>
<rect x="620" y="318" width="4" height="2" fill="#80ffff"/>
<rect x="628" y="318" width="2" height="2" fill="#80ffff"/>
<rect x="638" y="318" width="2" height="2" fill="#80ffff"/>
<rect x="648" y="318" width="4" height="2" fill="#80ffff"/>
<rect x="658" y="318" width="6" height="2" fill="#80ffff"/>
<rect x="674" y="318" width="2" height="2" fill="#80ffff"/>
<rect x="696" y="318" width="2" height="2" fill="#80ffff"/>
<rect x="706" y="318" width="2" height="2" fill="#80ffff"/>
<rect x="710" y="318" width="2" height="2" fill="#80ffff"/>
<rect x="720" y="318" width="2" height="2" fill="#80ffff"/>
<rect x="726" y="318" width="2" height="2" fill="#80ffff"/>
<rect x="732" y="318" width="2" height="2" fill="#80ffff"/>
<rect x="736" y="318" width="2" height="2" fill="#80ffff"/>
<rect x="34" y="320" width="4" height="2" fill="#00ffff"/>
<rect x="40" y="320" width="2" height="2" fill="#00ffff"/>
<rect x="44" y="320" width="2" height="2" fill="#00ffff"/>
<rect x="54" y="320" width="2" height="2" fill="#00ffff"/>
<rect x="58" y="320" width="6" height="2" fill="#00ffff"/>
<rect x="68" y="320" width="2" height="2" fill="#00ffff"/>
<rect x="76" y="320" width="2" height="2" fill="#00ffff"/>
<rect x="86" y="320" width="4" height="2" fill="#00ffff"/>
<rect x="100" y="320" width="4" height="2" fill="#00ffff"/>
<rect x="106" y="320" width="4" height="2" fill="#00ffff"/>
<rect x="120" y="320" width="2" height="2" fill="#00ffff"/>
<rect x="130" y="320" width="2" height="2" fill="#00ffff"/>
<rect x="134" y="320" width="10" height="2" fill="#00ffff"/>
<rect x="146" y="320" width="2" height="2" fill="#00ffff"/>
<rect x="154" y="320" width="2" height="2" fill="#00ffff"/>
<rect x="160" y="320" width="2" height="2" fill="#00ffff"/>
<rect x="164" y="320" width="4" height="2" fill="#00ffff"/>
<rect x="172" y="320" width="2" height="2" fill="#00ffff"/>
<rect x="180" y="320" width="4" height="2" fill="#00ffff"/>
<rect x="190" y="320" width="2" height="2" fill="#00ffff"/>
<rect x="194" y="320" width="2" height="2" fill="#00ffff"/>
<rect x="200" y="320" width="2" height="2" fill="#00ffff"/>
<rect x="206" y="320" width="2" height="2" fill="#00ffff"/>
<rect x="210" y="320" width="4" height="2" fill="#00ffff"/>
<rect x="218" y="320" width="2" height="2" fill="#00ffff"/>
<rect x="224" y="320" width="2" height="2" fill="#00ffff"/>
<rect x="228" y="320" width="4" height="2" fill="#00ffff"/>
<rect x="238" y="320" width="2" height="2" fill="#00ffff"/>
<rect x="242" y="320" width="6" height="2" fill="#00ffff"/>
<rect x="254" y="320" width="4" height="2" fill="#00ffff"/>
<rect x="266" y="320" width="8" height="2" fill="#00ffff"/>
<rect x="284" y="320" width="2" height="2" fill="#00ffff"/>
<rect x="288" y="320" width="2" height="2" fill="#00ffff"/>
<rect x="294" y="320" width="2" height="2" fill="#00ffff"/>
<rect x="298" y="320" width="2" height="2" fill="#00ffff"/>
<rect x="306" y="320" width="2" height="2" fill="#00ffff"/>
<rect x="318" y="320" width="2" height="2" fill="#00ffff"/>
<rect x="330" y="320" width="2" height="2" fill="#00ffff"/>
<rect x="334" y="320" width="6" height="2" fill="#00ffff"/>
<rect x="344" y="320" width="2" height="2" fill="#00ffff"/>
<rect x="356" y="320" width="2" height="2" fill="#00ffff"/>
<rect x="366" y="320" width="2" height="2" fill="#00ffff"/>
<rect x="372" y="320" width="2" height="2" fill="#00ffff"/>
<rect x="378" y="320" width="2" height="2" fill="#00ffff"/>
<rect x="386" y="320" width="2" height="2" fill="#00ffff"/>
<rect x="394" y="320" width="4" height="2" fill="#00ffff"/>
<rect x="402" y="320" width="2" height="2" fill="#00ffff"/>
<rect x="410" y="320" width="2" height="2" fill="#00ffff"/>
<rect x="414" y="320" width="4" height="2" fill="#00ffff"/>
<rect x="424" y="320" width="4" height="2" fill="#00ffff"/>
<rect x="436" y="320" width="2" height="2" fill="#00ffff"/>
<rect x="450" y="320" width="2" height="2" fill="#00ffff"/>
<rect x="454" y="320" width="2" height="2" fill="#00ffff"/>
<rect x="474" y="320" width="2" height="2" fill="#00ffff"/>
<rect x="478" y="320" width="8" height="2" fill="#00ffff"/>
<rect x="492" y="320" width="6" height="2" fill="#00ffff"/>
<rect x="500" y="320" width="4" height="2" fill="#00ffff"/>
<rect x="510" y="320" width="4" height="2" fill="#00ffff"/>
<rect x="516" y="320" width="2" height="2" fill="#00ffff"/>
<rect x="522" y="320" width="2" height="2" fill="#00ffff"/>
<rect x="526" y="320" width="4" height="2" fill="#00ffff"/>
<rect x="532" y="320" width="4" height="2" fill="#00ffff"/>
<rect x="542" y="320" width="2" height="2" fill="#00ffff"/>
<rect x="548" y="320" width="2" height="2" fill="#00ffff"/>
<rect x="552" y="320" width="2" height="2" fill="#00ffff"/>
<rect x="556" y="320" width="4" height="2" fill="#00ffff"/>
<rect x="572" y="320" width="2" height="2" fill="#00ffff"/>
<rect x="576" y="320" width="2" height="2" fill="#00ffff"/>
<rect x="580" y="320" width="2" height="2" fill="#00ffff"/>
<rect x="606" y="320" width="4" height="2" fill="#00ffff"/>
<rect x="614" y="320" width="2" height="2" fill="#00ffff"/>
<rect x="620" y="320" width="4" height="2" fill="#00ffff"/>
<rect x="628" y="320" width="2" height="2" fill="#00ffff"/>
<rect x="638" y="320" width="4" height="2" fill="#00ffff"/>
<rect x="648" y="320" width="4" height="2" fill="#00ffff"/>
<rect x="658" y="320" width="6" height="2" fill="#00ffff"/>
<rect x="670" y="320" width="2" height="2" fill="#00ffff"/>
<rect x="674" y="320" width="2" height="2" fill="#00ffff"/>
<rect x="696" y="320" width="2" height="2" fill="#00ffff"/>
<rect x="706" y="320" width="2" height="2" fill="#00ffff"/>
<rect x="710" y="320" width="2" height="2" fill="#00ffff"/>
<rect x="720" y="320" width="2" height="2" fill="#00ffff"/>
<rect x="726" y="320" width="2" height="2" fill="#00ffff"/>
<rect x="730" y="320" width="2" height="2" fill="#80ffff"/>
<rect x="732" y="320" width="2" height="2" fill="#00ffff"/>
<rect x="736" y="320" width="2" height="2" fill="#00ffff"/>
<rect x="34" y="322" width="4" height="2" fill="#00ffff"/>
<rect x="40" y="322" width="2" height="2" fill="#00ffff"/>
<rect x="44" y="322" width="2" height="2" fill="#00ffff"/>
<rect x="54" y="322" width="2" height="2" fill="#00ffff"/>
<rect x="58" y="322" width="6" height="2" fill="#00ffff"/>
<rect x="68" y="322" width="2" height="2" fill="#00ffff"/>
<rect x="76" y="322" width="2" height="2" fill="#00ffff"/>
<rect x="86" y="322" width="4" height="2" fill="#00ffff"/>
<rect x="100" y="322" width="4" height="2" fill="#00ffff"/>
<rect x="106" y="322" width="4" height="2" fill="#00ffff"/>
<rect x="120" y="322" width="2" height="2" fill="#00ffff"/>
<rect x="130" y="322" width="2" height="2" fill="#00ffff"/>
<rect x="134" y="322" width="10" height="2" fill="#00ffff"/>
<rect x="146" y="322" width="2" height="2" fill="#00ffff"/>
<rect x="154" y="322" width="2" height="2" fill="#00ffff"/>
<rect x="160" y="322" width="2" height="2" fill="#00ffff"/>
<rect x="164" y="322" width="4" height="2" fill="#00ffff"/>
<rect x="172" y="322" width="2" height="2" fill="#00ffff"/>
<rect x="180" y="322" width="4" height="2" fill="#00ffff"/>
<rect x="190" y="322" width="2" height="2" fill="#00ffff"/>
<rect x="194" y="322" width="2" height="2" fill="#00ffff"/>
<rect x="200" y="322" width="2" height="2" fill="#00ffff"/>
<rect x="206" y="322" width="2" height="2" fill="#00ffff"/>
<rect x="210" y="322" width="4" height="2" fill="#00ffff"/>
<rect x="218" y="322" width="2" height="2" fill="#00ffff"/>
<rect x="224" y="322" width="2" height="2" fill="#00ffff"/>
<rect x="228" y="322" width="4" height="2" fill="#00ffff"/>
<rect x="238" y="322" width="2" height="2" fill="#00ffff"/>
<rect x="242" y="322" width="6" height="2" fill="#00ffff"/>
<rect x="254" y="322" width="4" height="2" fill="#00ffff"/>
<rect x="266" y="322" width="8" height="2" fill="#00ffff"/>
<rect x="284" y="322" width="2" height="2" fill="#00ffff"/>
<rect x="288" y="322" width="2" height="2" fill="#00ffff"/>
<rect x="294" y="322" width="2" height="2" fill="#00ffff"/>
<rect x="298" y="322" width="2" height="2" fill="#00ffff"/>
<rect x="306" y="322" width="2" height="2" fill="#00ffff"/>
<rect x="318" y="322" width="2" height="2" fill="#00ffff"/>
<rect x="330" y="322" width="2" height="2" fill="#00ffff"/>
<rect x="334" y="322" width="6" height="2" fill="#00ffff"/>
<rect x="344" y="322" width="2" height="2" fill="#00ffff"/>
<rect x="356" y="322" width="2" height="2" fill="#00ffff"/>
<rect x="366" y="322" width="2" height="2" fill="#00ffff"/>
<rect x="372" y="322" width="2" height="2" fill="#00ffff"/>
<rect x="378" y="322" width="2" height="2" fill="#00ffff"/>
<rect x="386" y="322" width="2" height="2" fill="#00ffff"/>
<rect x="394" y="322" width="4" height="2" fill="#00ffff"/>
<rect x="402" y="322" width="2" height="2" fill="#00ffff"/>
<rect x="410" y="322" width="2" height="2" fill="#00ffff"/>
<rect x="414" y="322" width="4" height="2" fill="#00ffff"/>
<rect x="424" y="322" width="4" height="2" fill="#00ffff"/>
<rect x="436" y="322" width="2" height="2" fill="#00ffff"/>
<rect x="450" y="322" width="2" height="2" fill="#00ffff"/>
<rect x="454" y="322" width="2" height="2" fill="#00ffff"/>
<rect x="474" y="322" width="2" height="2" fill="#00ffff"/>
<rect x="478" y="322" width="8" height="2" fill="#00ffff"/>
<rect x="492" y="322" width="6" height="2" fill="#00ffff"/>
<rect x="500" y="322" width="4" height="2" fill="#00ffff"/>
<rect x="510" y="322" width="4" height="2" fill="#00ffff"/>
<rect x="516" y="322" width="2" height="2" fill="#00ffff"/>
<rect x="522" y="322" width="2" height="2" fill="#00ffff"/>
<rect x="526" y="322" width="4" height="2" fill="#00ffff"/>
<rect x="532" y="322" width="4" height="2" fill="#00ffff"/>
<rect x="542" y="322" width="2" height="2" fill="#00ffff"/>
<rect x="548" y="322" width="2" height="2" fill="#00ffff"/>
<rect x="552" y="322" width="2" height="2" fill="#00ffff"/>
<rect x="556" y="322" width="4" height="2" fill="#00ffff"/>
<rect x="572" y="322" width="2" height="2" fill="#00ffff"/>
<rect x="576" y="322" width="2" height="2" fill="#00ffff"/>
<rect x="580" y="322" width="2" height="2" fill="#00ffff"/>
<rect x="606" y="322" width="4" height="2" fill="#00ffff"/>
<rect x="614" y="322" width="2" height="2" fill="#00ffff"/>
<rect x="620" y="322" width="4" height="2" fill="#00ffff"/>
<rect x="628" y="322" width="2" height="2" fill="#00ffff"/>
<rect x="638" y="322" width="4" height="2" fill="#00ffff"/>
<rect x="648" y="322" width="4" height="2" fill="#00ffff"/>
<rect x="658" y="322" width="6" height="2" fill="#00ffff"/>
<rect x="670" y="322" width="2" height="2" fill="#00ffff"/>
<rect x="674" y="322" width="2" height="2" fill="#00ffff"/>
<rect x="696" y="322" width="2" height="2" fill="#00ffff"/>
<rect x="706" y="322" width="2" height="2" fill="#00ffff"/>
<rect x="710" y="322" width="2" height="2" fill="#00ffff"/>
<rect x="720" y="322" width="2" height="2" fill="#00ffff"/>
<rect x="726" y="322" width="2" height="2" fill="#00ffff"/>
<rect x="730" y="322" width="2" height="2" fill="#80ffff"/>
<rect x="732" y="322" width="2" height="2" fill="#00ffff"/>
<rect x="736" y="322" width="2" height="2" fill="#00ffff"/>
<rect x="58" y="324" width="2" height="2" fill="#80ffff"/>
<rect x="76" y="324" width="2" height="2" fill="#80ffff"/>
<rect x="134" y="324" width="2" height="2" fill="#80ffff"/>
<rect x="180" y="324" width="2" height="2" fill="#80ffff"/>
<rect x="224" y="324" width="2" height="2" fill="#80ffff"/>
<rect x="386" y="324" width="2" height="2" fill="#80ffff"/>
<rect x="410" y="324" width="2" height="2" fill="#80ffff"/>
<rect x="478" y="324" width="2" height="2" fill="#80ffff"/>
<rect x="492" y="324" width="2" height="2" fill="#80ffff"/>
<rect x="496" y="324" width="2" height="2" fill="#80ffff"/>
<rect x="580" y="324" width="2" height="2" fill="#80ffff"/>
<rect x="608" y="324" width="2" height="2" fill="#80ffff"/>
<rect x="640" y="324" width="2" height="2" fill="#80ffff"/>
<rect x="62" y="326" width="2" height="2" fill="#80ffff"/>
<rect x="402" y="364" width="2" height="2" fill="#0080ff"/>
<rect x="402" y="366" width="2" height="2" fill="#0080ff"/>
<rect x="404" y="366" width="2" height="2" fill="#80ffff"/>
<rect x="402" y="368" width="2" height="2" fill="#0080ff"/>
<rect x="402" y="370" width="2" height="2" fill="#0080ff"/>
<rect x="402" y="372" width="6" height="2" fill="#80ffff"/>
<rect x="404" y="374" width="2" height="2" fill="#0080ff"/>
<rect x="406" y="374" width="2" height="2" fill="#80ffff"/>
<rect x="404" y="376" width="4" height="2" fill="#0080ff"/>
<rect x="404" y="378" width="4" height="2" fill="#0080ff"/>
<rect x="408" y="378" width="2" height="2" fill="#80ffff"/>
<rect x="404" y="380" width="4" height="2" fill="#0080ff"/>
<rect x="408" y="380" width="2" height="2" fill="#00ffff"/>
<rect x="412" y="380" width="2" height="2" fill="#80ffff"/>
<rect x="404" y="382" width="2" height="2" fill="#80ffff"/>
<rect x="406" y="382" width="4" height="2" fill="#0080ff"/>
<rect x="410" y="382" width="4" height="2" fill="#00ffff"/>
<rect x="414" y="382" width="4" height="2" fill="#0080ff"/>
<rect x="406" y="384" width="2" height="2" fill="#80ffff"/>
<rect x="408" y="384" width="4" height="2" fill="#0080ff"/>
<rect x="412" y="384" width="2" height="2" fill="#00ffff"/>
<rect x="414" y="384" width="4" height="2" fill="#0080ff"/>
<rect x="406" y="386" width="2" height="2" fill="#80ffff"/>
<rect x="408" y="386" width="10" height="2" fill="#0080ff"/>
<rect x="436" y="386" width="2" height="2" fill="#80ffff"/>
<rect x="448" y="386" width="2" height="2" fill="#80ffff"/>
<rect x="408" y="388" width="2" height="2" fill="#80ffff"/>
<rect x="410" y="388" width="2" height="2" fill="#0080ff"/>
<rect x="412" y="388" width="6" height="2" fill="#0000ff"/>
<rect x="418" y="388" width="2" height="2" fill="#80ffff"/>
<rect x="436" y="388" width="4" height="2" fill="#00ffff"/>
<rect x="444" y="388" width="2" height="2" fill="#80ffff"/>
<rect x="448" y="388" width="2" height="2" fill="#80ffff"/>
<rect x="408" y="390" width="2" height="2" fill="#80ffff"/>
<rect x="410" y="390" width="2" height="2" fill="#0080ff"/>
<rect x="412" y="390" width="6" height="2" fill="#0000ff"/>
<rect x="418" y="390" width="2" height="2" fill="#0080ff"/>
<rect x="422" y="390" width="2" height="2" fill="#80ffff"/>
<rect x="436" y="390" width="8" height="2" fill="#00ffff"/>
<rect x="448" y="390" width="4" height="2" fill="#80ffff"/>
<rect x="408" y="392" width="4" height="2" fill="#80ffff"/>
<rect x="412" y="392" width="6" height="2" fill="#0000ff"/>
<rect x="418" y="392" width="2" height="2" fill="#0080ff"/>
<rect x="420" y="392" width="2" height="2" fill="#00ffff"/>
<rect x="422" y="392" width="2" height="2" fill="#80ffff"/>
<rect x="434" y="392" width="10" height="2" fill="#00ffff"/>
<rect x="448" y="392" width="4" height="2" fill="#80ffff"/>
<rect x="410" y="394" width="2" height="2" fill="#80ffff"/>
<rect x="412" y="394" width="8" height="2" fill="#0000ff"/>
<rect x="420" y="394" width="2" height="2" fill="#00ffff"/>
<rect x="422" y="394" width="2" height="2" fill="#0080ff"/>
<rect x="432" y="394" width="2" height="2" fill="#80ffff"/>
<rect x="434" y="394" width="2" height="2" fill="#00ffff"/>
<rect x="436" y="394" width="2" height="2" fill="#0080ff"/>
<rect x="438" y="394" width="6" height="2" fill="#00ffff"/>
<rect x="444" y="394" width="2" height="2" fill="#80ffff"/>
<rect x="448" y="394" width="4" height="2" fill="#80ffff"/>
<rect x="412" y="396" width="4" height="2" fill="#0080ff"/>
<rect x="416" y="396" width="4" height="2" fill="#0000ff"/>
<rect x="420" y="396" width="4" height="2" fill="#0080ff"/>
<rect x="424" y="396" width="2" height="2" fill="#80ffff"/>
<rect x="430" y="396" width="2" height="2" fill="#80ffff"/>
<rect x="432" y="396" width="4" height="2" fill="#00ffff"/>
<rect x="436" y="396" width="2" height="2" fill="#0080ff"/>
<rect x="438" y="396" width="6" height="2" fill="#00ffff"/>
<rect x="444" y="396" width="4" height="2" fill="#80ffff"/>
<rect x="412" y="398" width="4" height="2" fill="#0080ff"/>
<rect x="416" y="398" width="8" height="2" fill="#0000ff"/>
<rect x="424" y="398" width="2" height="2" fill="#0080ff"/>
<rect x="428" y="398" width="2" height="2" fill="#80ffff"/>
<rect x="430" y="398" width="6" height="2" fill="#00ffff"/>
<rect x="436" y="398" width="2" height="2" fill="#0080ff"/>
<rect x="438" y="398" width="6" height="2" fill="#00ffff"/>
<rect x="444" y="398" width="4" height="2" fill="#80ffff"/>
<rect x="450" y="398" width="2" height="2" fill="#80ffff"/>
<rect x="412" y="400" width="2" height="2" fill="#80ffff"/>
<rect x="414" y="400" width="2" height="2" fill="#0080ff"/>
<rect x="416" y="400" width="8" height="2" fill="#0000ff"/>
<rect x="424" y="400" width="2" height="2" fill="#0080ff"/>
<rect x="426" y="400" width="10" height="2" fill="#00ffff"/>
<rect x="436" y="400" width="2" height="2" fill="#0080ff"/>
<rect x="438" y="400" width="8" height="2" fill="#00ffff"/>
<rect x="446" y="400" width="6" height="2" fill="#80ffff"/>
<rect x="414" y="402" width="2" height="2" fill="#00ffff"/>
<rect x="416" y="402" width="10" height="2" fill="#0000ff"/>
<rect x="426" y="402" width="10" height="2" fill="#00ffff"/>
<rect x="436" y="402" width="2" height="2" fill="#80ffff"/>
<rect x="438" y="402" width="6" height="2" fill="#00ffff"/>
<rect x="444" y="402" width="2" height="2" fill="#80ffff"/>
<rect x="446" y="402" width="2" height="2" fill="#00ffff"/>
<rect x="448" y="402" width="4" height="2" fill="#80ffff"/>
<rect x="414" y="404" width="2" height="2" fill="#00ffff"/>
<rect x="416" y="404" width="4" height="2" fill="#0000ff"/>
<rect x="420" y="404" width="2" height="2" fill="#0080ff"/>
<rect x="422" y="404" width="4" height="2" fill="#0000ff"/>
<rect x="426" y="404" width="2" height="2" fill="#0080ff"/>
<rect x="428" y="404" width="8" height="2" fill="#00ffff"/>
<rect x="436" y="404" width="2" height="2" fill="#80ffff"/>
<rect x="440" y="404" width="4" height="2" fill="#00ffff"/>
<rect x="444" y="404" width="6" height="2" fill="#80ffff"/>
<rect x="414" y="406" width="2" height="2" fill="#00ffff"/>
<rect x="416" y="406" width="4" height="2" fill="#0000ff"/>
<rect x="420" y="406" width="2" height="2" fill="#0080ff"/>
<rect x="422" y="406" width="4" height="2" fill="#0000ff"/>
<rect x="426" y="406" width="2" height="2" fill="#0080ff"/>
<rect x="428" y="406" width="6" height="2" fill="#00ffff"/>
<rect x="436" y="406" width="2" height="2" fill="#80ffff"/>
<rect x="442" y="406" width="2" height="2" fill="#80ffff"/>
<rect x="446" y="406" width="2" height="2" fill="#80ffff"/>
<rect x="414" y="408" width="2" height="2" fill="#80ffff"/>
<rect x="416" y="408" width="4" height="2" fill="#0000ff"/>
<rect x="420" y="408" width="6" height="2" fill="#0080ff"/>
<rect x="426" y="408" width="6" height="2" fill="#00ffff"/>
<rect x="432" y="408" width="2" height="2" fill="#80ffff"/>
<rect x="438" y="408" width="2" height="2" fill="#80ffff"/>
<rect x="414" y="410" width="2" height="2" fill="#80ffff"/>
<rect x="416" y="410" width="4" height="2" fill="#0000ff"/>
<rect x="420" y="410" width="6" height="2" fill="#0080ff"/>
<rect x="426" y="410" width="6" height="2" fill="#00ffff"/>
<rect x="432" y="410" width="2" height="2" fill="#80ffff"/>
<rect x="438" y="410" width="2" height="2" fill="#80ffff"/>
<rect x="414" y="412" width="2" height="2" fill="#80ffff"/>
<rect x="416" y="412" width="4" height="2" fill="#0000ff"/>
<rect x="420" y="412" width="2" height="2" fill="#0080ff"/>
<rect x="422" y="412" width="2" height="2" fill="#80ffff"/>
<rect x="424" y="412" width="8" height="2" fill="#00ffff"/>
<rect x="432" y="412" width="2" height="2" fill="#80ffff"/>
<rect x="438" y="412" width="2" height="2" fill="#80ffff"/>
<rect x="416" y="414" width="2" height="2" fill="#0080ff"/>
<rect x="418" y="414" width="2" height="2" fill="#0000ff"/>
<rect x="420" y="414" width="2" height="2" fill="#00ffff"/>
<rect x="422" y="414" width="2" height="2" fill="#80ffff"/>
<rect x="424" y="414" width="8" height="2" fill="#00ffff"/>
<rect x="432" y="414" width="4" height="2" fill="#80ffff"/>
<rect x="438" y="414" width="2" height="2" fill="#80ffff"/>
<rect x="416" y="416" width="4" height="2" fill="#0080ff"/>
<rect x="420" y="416" width="2" height="2" fill="#00ffff"/>
<rect x="424" y="416" width="2" height="2" fill="#80ffff"/>
<rect x="426" y="416" width="6" height="2" fill="#00ffff"/>
<rect x="432" y="416" width="4" height="2" fill="#80ffff"/>
<rect x="438" y="416" width="2" height="2" fill="#80ffff"/>
<rect x="416" y="418" width="4" height="2" fill="#00ffff"/>
<rect x="420" y="418" width="2" height="2" fill="#80ffff"/>
<rect x="424" y="418" width="2" height="2" fill="#80ffff"/>
<rect x="426" y="418" width="2" height="2" fill="#0080ff"/>
<rect x="428" y="418" width="2" height="2" fill="#00ffff"/>
<rect x="430" y="418" width="2" height="2" fill="#80ffff"/>
<rect x="434" y="418" width="2" height="2" fill="#80ffff"/>
<rect x="438" y="418" width="2" height="2" fill="#80ffff"/>
<rect x="418" y="420" width="2" height="2" fill="#80ffff"/>
<rect x="426" y="420" width="2" height="2" fill="#80ffff"/>
<rect x="432" y="420" width="4" height="2" fill="#80ffff"/>
<rect x="430" y="422" width="4" height="2" fill="#80ffff"/>
<rect x="636" y="458" width="2" height="2" fill="#80ffff"/>
<rect x="650" y="458" width="2" height="2" fill="#80ffff"/>
<rect x="654" y="458" width="2" height="2" fill="#80ffff"/>
<rect x="636" y="460" width="2" height="2" fill="#80ffff"/>
<rect x="640" y="460" width="2" height="2" fill="#80ffff"/>
<rect x="650" y="460" width="8" height="2" fill="#80ffff"/>
<rect x="636" y="462" width="2" height="2" fill="#80ffff"/>
<rect x="640" y="462" width="2" height="2" fill="#80ffff"/>
<rect x="650" y="462" width="2" height="2" fill="#80ffff"/>
<rect x="652" y="462" width="4" height="2" fill="#00ffff"/>
<rect x="656" y="462" width="2" height="2" fill="#80ffff"/>
<rect x="640" y="464" width="2" height="2" fill="#80ffff"/>
<rect x="650" y="464" width="2" height="2" fill="#80ffff"/>
<rect x="652" y="464" width="4" height="2" fill="#00ffff"/>
<rect x="656" y="464" width="2" height="2" fill="#80ffff"/>
<rect x="652" y="466" width="6" height="2" fill="#80ffff"/>
<rect x="390" y="472" width="2" height="2" fill="#80ffff"/>
<rect x="390" y="474" width="4" height="2" fill="#80ffff"/>
<rect x="436" y="474" width="2" height="2" fill="#80ffff"/>
<rect x="390" y="476" width="6" height="2" fill="#80ffff"/>
<rect x="436" y="476" width="2" height="2" fill="#80ffff"/>
<rect x="650" y="476" width="2" height="2" fill="#80ffff"/>
<rect x="392" y="478" width="4" height="2" fill="#80ffff"/>
<rect x="436" y="478" width="2" height="2" fill="#80ffff"/>
<rect x="658" y="478" width="2" height="2" fill="#80ffff"/>
<rect x="392" y="480" width="4" height="2" fill="#80ffff"/>
<rect x="648" y="480" width="4" height="2" fill="#80ffff"/>
<rect x="656" y="480" width="4" height="2" fill="#80ffff"/>
<rect x="394" y="482" width="2" height="2" fill="#80ffff"/>
<rect x="648" y="482" width="4" height="2" fill="#80ffff"/>
<rect x="656" y="482" width="6" height="2" fill="#80ffff"/>
<rect x="394" y="484" width="2" height="2" fill="#80ffff"/>
<rect x="648" y="484" width="4" height="2" fill="#80ffff"/>
<rect x="656" y="484" width="6" height="2" fill="#80ffff"/>
<rect x="436" y="486" width="2" height="2" fill="#80ffff"/>
<rect x="648" y="486" width="4" height="2" fill="#80ffff"/>
<rect x="656" y="486" width="6" height="2" fill="#80ffff"/>
<rect x="646" y="488" width="4" height="2" fill="#80ffff"/>
<rect x="654" y="488" width="2" height="2" fill="#80ffff"/>
<rect x="656" y="488" width="6" height="2" fill="#00ffff"/>
<rect x="646" y="490" width="6" height="2" fill="#80ffff"/>
<rect x="654" y="490" width="2" height="2" fill="#80ffff"/>
<rect x="656" y="490" width="6" height="2" fill="#00ffff"/>
<rect x="662" y="490" width="2" height="2" fill="#80ffff"/>
<rect x="676" y="490" width="4" height="2" fill="#80ffff"/>
<rect x="646" y="492" width="6" height="2" fill="#80ffff"/>
<rect x="654" y="492" width="2" height="2" fill="#80ffff"/>
<rect x="656" y="492" width="6" height="2" fill="#00ffff"/>
<rect x="662" y="492" width="2" height="2" fill="#80ffff"/>
<rect x="676" y="492" width="4" height="2" fill="#80ffff"/>
<rect x="646" y="494" width="6" height="2" fill="#80ffff"/>
<rect x="654" y="494" width="2" height="2" fill="#80ffff"/>
<rect x="656" y="494" width="6" height="2" fill="#00ffff"/>
<rect x="662" y="494" width="2" height="2" fill="#80ffff"/>
<rect x="666" y="494" width="2" height="2" fill="#80ffff"/>
<rect x="676" y="494" width="4" height="2" fill="#80ffff"/>
<rect x="646" y="496" width="6" height="2" fill="#80ffff"/>
<rect x="654" y="496" width="2" height="2" fill="#80ffff"/>
<rect x="656" y="496" width="6" height="2" fill="#00ffff"/>
<rect x="662" y="496" width="2" height="2" fill="#80ffff"/>
<rect x="666" y="496" width="4" height="2" fill="#80ffff"/>
<rect x="674" y="496" width="4" height="2" fill="#80ffff"/>
<rect x="648" y="498" width="4" height="2" fill="#80ffff"/>
<rect x="654" y="498" width="2" height="2" fill="#80ffff"/>
<rect x="656" y="498" width="6" height="2" fill="#00ffff"/>
<rect x="662" y="498" width="8" height="2" fill="#80ffff"/>
<rect x="674" y="498" width="6" height="2" fill="#80ffff"/>
<rect x="436" y="500" width="2" height="2" fill="#80ffff"/>
<rect x="648" y="500" width="6" height="2" fill="#80ffff"/>
<rect x="656" y="500" width="6" height="2" fill="#00ffff"/>
<rect x="662" y="500" width="2" height="2" fill="#80ffff"/>
<rect x="674" y="500" width="6" height="2" fill="#80ffff"/>
<rect x="436" y="502" width="2" height="2" fill="#80ffff"/>
<rect x="648" y="502" width="6" height="2" fill="#80ffff"/>
<rect x="656" y="502" width="4" height="2" fill="#80ffff"/>
<rect x="660" y="502" width="2" height="2" fill="#00ffff"/>
<rect x="662" y="502" width="2" height="2" fill="#80ffff"/>
<rect x="668" y="502" width="2" height="2" fill="#80ffff"/>
<rect x="672" y="502" width="8" height="2" fill="#80ffff"/>
<rect x="436" y="504" width="2" height="2" fill="#80ffff"/>
<rect x="648" y="504" width="6" height="2" fill="#80ffff"/>
<rect x="656" y="504" width="8" height="2" fill="#80ffff"/>
<rect x="672" y="504" width="8" height="2" fill="#80ffff"/>
<rect x="436" y="506" width="2" height="2" fill="#80ffff"/>
<rect x="648" y="506" width="6" height="2" fill="#80ffff"/>
<rect x="656" y="506" width="6" height="2" fill="#80ffff"/>
<rect x="672" y="506" width="2" height="2" fill="#80ffff"/>
<rect x="676" y="506" width="6" height="2" fill="#80ffff"/>
<rect x="436" y="508" width="2" height="2" fill="#80ffff"/>
<rect x="648" y="508" width="6" height="2" fill="#80ffff"/>
<rect x="656" y="508" width="4" height="2" fill="#80ffff"/>
<rect x="672" y="508" width="2" height="2" fill="#80ffff"/>
<rect x="676" y="508" width="6" height="2" fill="#80ffff"/>
<rect x="436" y="510" width="4" height="2" fill="#80ffff"/>
<rect x="650" y="510" width="4" height="2" fill="#80ffff"/>
<rect x="656" y="510" width="2" height="2" fill="#80ffff"/>
<rect x="672" y="510" width="2" height="2" fill="#80ffff"/>
<rect x="676" y="510" width="4" height="2" fill="#80ffff"/>
<rect x="434" y="512" width="8" height="2" fill="#80ffff"/>
<rect x="650" y="512" width="4" height="2" fill="#80ffff"/>
<rect x="676" y="512" width="4" height="2" fill="#80ffff"/>
<rect x="434" y="514" width="8" height="2" fill="#80ffff"/>
<rect x="652" y="514" width="2" height="2" fill="#80ffff"/>
<rect x="676" y="514" width="4" height="2" fill="#80ffff"/>
<rect x="434" y="516" width="8" height="2" fill="#80ffff"/>
<rect x="674" y="516" width="2" height="2" fill="#80ffff"/>
<rect x="678" y="516" width="2" height="2" fill="#80ffff"/>
<rect x="436" y="518" width="6" height="2" fill="#80ffff"/>
<rect x="674" y="518" width="2" height="2" fill="#80ffff"/>
<rect x="678" y="518" width="2" height="2" fill="#80ffff"/>
<rect x="436" y="520" width="6" height="2" fill="#80ffff"/>
<rect x="670" y="520" width="2" height="2" fill="#80ffff"/>
<rect x="674" y="520" width="6" height="2" fill="#80ffff"/>
<rect x="438" y="522" width="6" height="2" fill="#80ffff"/>
<rect x="668" y="522" width="4" height="2" fill="#80ffff"/>
<rect x="674" y="522" width="8" height="2" fill="#80ffff"/>
<rect x="440" y="524" width="4" height="2" fill="#80ffff"/>
<rect x="668" y="524" width="4" height="2" fill="#80ffff"/>
<rect x="676" y="524" width="6" height="2" fill="#80ffff"/>
<rect x="440" y="526" width="6" height="2" fill="#80ffff"/>
<rect x="668" y="526" width="2" height="2" fill="#80ffff"/>
<rect x="676" y="526" width="4" height="2" fill="#80ffff"/>
<rect x="442" y="528" width="6" height="2" fill="#80ffff"/>
<rect x="676" y="528" width="4" height="2" fill="#80ffff"/>
<rect x="444" y="530" width="6" height="2" fill="#80ffff"/>
<rect x="676" y="530" width="4" height="2" fill="#80ffff"/>
<rect x="444" y="532" width="6" height="2" fill="#80ffff"/>
<rect x="446" y="534" width="6" height="2" fill="#80ffff"/>
<rect x="678" y="534" width="2" height="2" fill="#80ffff"/>
<rect x="448" y="536" width="6" height="2" fill="#80ffff"/>
<rect x="678" y="536" width="2" height="2" fill="#80ffff"/>
<rect x="448" y="538" width="6" height="2" fill="#80ffff"/>
<rect x="678" y="538" width="4" height="2" fill="#80ffff"/>
<rect x="448" y="540" width="6" height="2" fill="#80ffff"/>
<rect x="672" y="540" width="8" height="2" fill="#80ffff"/>
<rect x="450" y="542" width="8" height="2" fill="#80ffff"/>
<rect x="672" y="542" width="8" height="2" fill="#80ffff"/>
<rect x="682" y="542" width="2" height="2" fill="#80ffff"/>
<rect x="450" y="544" width="8" height="2" fill="#80ffff"/>
<rect x="674" y="544" width="12" height="2" fill="#80ffff"/>
<rect x="450" y="546" width="8" height="2" fill="#80ffff"/>
<rect x="674" y="546" width="10" height="2" fill="#80ffff"/>
<rect x="686" y="546" width="2" height="2" fill="#80ffff"/>
<rect x="454" y="548" width="2" height="2" fill="#80ffff"/>
<rect x="676" y="548" width="12" height="2" fill="#80ffff"/>
<rect x="454" y="550" width="2" height="2" fill="#80ffff"/>
<rect x="678" y="550" width="12" height="2" fill="#80ffff"/>
<rect x="678" y="552" width="14" height="2" fill="#80ffff"/>
<rect x="460" y="554" width="4" height="2" fill="#80ffff"/>
<rect x="680" y="554" width="12" height="2" fill="#80ffff"/>
<rect x="460" y="556" width="4" height="2" fill="#80ffff"/>
<rect x="682" y="556" width="12" height="2" fill="#80ffff"/>
<rect x="698" y="556" width="2" height="2" fill="#80ffff"/>
<rect x="686" y="558" width="4" height="2" fill="#80ffff"/>
</g>
<g id="data2">
<rect x="34" y="599" width="4" height="2" fill="#00ffff"/>
<rect x="40" y="599" width="2" height="2" fill="#00ffff"/>
<rect x="44" y="599" width="2" height="2" fill="#00ffff"/>
<rect x="54" y="599" width="2" height="2" fill="#00ffff"/>
<rect x="60" y="599" width="4" height="2" fill="#00ffff"/>
<rect x="68" y="599" width="2" height="2" fill="#00ffff"/>
<rect x="86" y="599" width="4" height="2" fill="#00ffff"/>
<rect x="100" y="599" width="4" height="2" fill="#00ffff"/>
<rect x="106" y="599" width="4" height="2" fill="#00ffff"/>
<rect x="120" y="599" width="2" height="2" fill="#00ffff"/>
<rect x="130" y="599" width="2" height="2" fill="#00ffff"/>
<rect x="134" y="599" width="10" height="2" fill="#00ffff"/>
<rect x="146" y="599" width="2" height="2" fill="#00ffff"/>
<rect x="154" y="599" width="2" height="2" fill="#00ffff"/>
<rect x="160" y="599" width="2" height="2" fill="#00ffff"/>
<rect x="164" y="599" width="4" height="2" fill="#00ffff"/>
<rect x="172" y="599" width="2" height="2" fill="#00ffff"/>
<rect x="182" y="599" width="2" height="2" fill="#00ffff"/>
<rect x="190" y="599" width="2" height="2" fill="#00ffff"/>
<rect x="194" y="599" width="2" height="2" fill="#00ffff"/>
<rect x="200" y="599" width="2" height="2" fill="#00ffff"/>
<rect x="206" y="599" width="2" height="2" fill="#00ffff"/>
<rect x="210" y="599" width="4" height="2" fill="#00ffff"/>
<rect x="218" y="599" width="2" height="2" fill="#00ffff"/>
<rect x="228" y="599" width="4" height="2" fill="#00ffff"/>
<rect x="238" y="599" width="2" height="2" fill="#00ffff"/>
<rect x="242" y="599" width="6" height="2" fill="#00ffff"/>
<rect x="254" y="599" width="4" height="2" fill="#00ffff"/>
<rect x="266" y="599" width="8" height="2" fill="#00ffff"/>
<rect x="284" y="599" width="2" height="2" fill="#00ffff"/>
<rect x="288" y="599" width="2" height="2" fill="#00ffff"/>
<rect x="294" y="599" width="2" height="2" fill="#00ffff"/>
<rect x="298" y="599" width="2" height="2" fill="#00ffff"/>
<rect x="306" y="599" width="2" height="2" fill="#00ffff"/>
<rect x="318" y="599" width="2" height="2" fill="#00ffff"/>
<rect x="330" y="599" width="2" height="2" fill="#00ffff"/>
<rect x="334" y="599" width="6" height="2" fill="#00ffff"/>
<rect x="344" y="599" width="2" height="2" fill="#00ffff"/>
<rect x="356" y="599" width="2" height="2" fill="#00ffff"/>
<rect x="366" y="599" width="2" height="2" fill="#00ffff"/>
<rect x="372" y="599" width="2" height="2" fill="#00ffff"/>
<rect x="378" y="599" width="2" height="2" fill="#00ffff"/>
<rect x="394" y="599" width="4" height="2" fill="#00ffff"/>
<rect x="402" y="599" width="2" height="2" fill="#00ffff"/>
<rect x="410" y="599" width="2" height="2" fill="#00ffff"/>
<rect x="414" y="599" width="4" height="2" fill="#00ffff"/>
<rect x="424" y="599" width="4" height="2" fill="#00ffff"/>
<rect x="436" y="599" width="2" height="2" fill="#00ffff"/>
<rect x="450" y="599" width="2" height="2" fill="#00ffff"/>
<rect x="454" y="599" width="2" height="2" fill="#00ffff"/>
<rect x="474" y="599" width="2" height="2" fill="#00ffff"/>
<rect x="480" y="599" width="6" height="2" fill="#00ffff"/>
<rect x="492" y="599" width="4" height="2" fill="#00ffff"/>
<rect x="500" y="599" width="4" height="2" fill="#00ffff"/>
<rect x="510" y="599" width="4" height="2" fill="#00ffff"/>
<rect x="516" y="599" width="2" height="2" fill="#00ffff"/>
<rect x="522" y="599" width="2" height="2" fill="#00ffff"/>
<rect x="526" y="599" width="4" height="2" fill="#00ffff"/>
<rect x="532" y="599" width="4" height="2" fill="#00ffff"/>
<rect x="542" y="599" width="2" height="2" fill="#00ffff"/>
<rect x="548" y="599" width="2" height="2" fill="#00ffff"/>
<rect x="552" y="599" width="2" height="2" fill="#00ffff"/>
<rect x="556" y="599" width="4" height="2" fill="#00ffff"/>
<rect x="572" y="599" width="2" height="2" fill="#00ffff"/>
<rect x="576" y="599" width="2" height="2" fill="#00ffff"/>
<rect x="606" y="599" width="4" height="2" fill="#00ffff"/>
<rect x="614" y="599" width="2" height="2" fill="#00ffff"/>
<rect x="620" y="599" width="4" height="2" fill="#00ffff"/>
<rect x="628" y="599" width="2" height="2" fill="#00ffff"/>
<rect x="638" y="599" width="2" height="2" fill="#00ffff"/>
<rect x="648" y="599" width="4" height="2" fill="#00ffff"/>
<rect x="658" y="599" width="6" height="2" fill="#00ffff"/>
<rect x="674" y="599" width="2" height="2" fill="#00ffff"/>
<rect x="696" y="599" width="2" height="2" fill="#00ffff"/>
<rect x="706" y="599" width="2" height="2" fill="#00ffff"/>
<rect x="710" y="599" width="2" height="2" fill="#00ffff"/>
<rect x="720" y="599" width="2" height="2" fill="#00ffff"/>
<rect x="726" y="599" width="2" height="2" fill="#00ffff"/>
<rect x="732" y="599" width="2" height="2" fill="#00ffff"/>
<rect x="736" y="599" width="2" height="2" fill="#00ffff"/>
<rect x="34" y="601" width="4" height="2" fill="#00c800"/>
<rect x="40" y="601" width="2" height="2" fill="#00c800"/>
<rect x="44" y="601" width="2" height="2" fill="#00c800"/>
<rect x="54" y="601" width="2" height="2" fill="#00c800"/>
<rect x="58" y="601" width="6" height="2" fill="#00c800"/>
<rect x="68" y="601" width="2" height="2" fill="#00c800"/>
<rect x="76" y="601" width="2" height="2" fill="#00c800"/>
<rect x="86" y="601" width="4" height="2" fill="#00c800"/>
<rect x="100" y="601" width="4" height="2" fill="#00c800"/>
<rect x="106" y="601" width="4" height="2" fill="#00c800"/>
<rect x="120" y="601" width="2" height="2" fill="#00c800"/>
<rect x="130" y="601" width="2" height="2" fill="#00c800"/>
<rect x="134" y="601" width="10" height="2" fill="#00c800"/>
<rect x="146" y="601" width="2" height="2" fill="#00c800"/>
<rect x="154" y="601" width="2" height="2" fill="#00c800"/>
<rect x="160" y="601" width="2" height="2" fill="#00c800"/>
<rect x="164" y="601" width="4" height="2" fill="#00c800"/>
<rect x="172" y="601" width="2" height="2" fill="#00c800"/>
<rect x="180" y="601" width="4" height="2" fill="#00c800"/>
<rect x="190" y="601" width="2" height="2" fill="#00c800"/>
<rect x="194" y="601" width="2" height="2" fill="#00c800"/>
<rect x="200" y="601" width="2" height="2" fill="#00c800"/>
<rect x="206" y="601" width="2" height="2" fill="#00c800"/>
<rect x="210" y="601" width="4" height="2" fill="#00c800"/>
<rect x="218" y="601" width="2" height="2" fill="#00c800"/>
<rect x="224" y="601" width="2" height="2" fill="#00c800"/>
<rect x="228" y="601" width="4" height="2" fill="#00c800"/>
<rect x="238" y="601" width="2" height="2" fill="#00c800"/>
<rect x="242" y="601" width="6" height="2" fill="#00c800"/>
<rect x="254" y="601" width="4" height="2" fill="#00c800"/>
<rect x="266" y="601" width="8" height="2" fill="#00c800"/>
<rect x="284" y="601" width="2" height="2" fill="#00c800"/>
<rect x="288" y="601" width="2" height="2" fill="#00c800"/>
<rect x="294" y="601" width="2" height="2" fill="#00c800"/>
<rect x="298" y="601" width="2" height="2" fill="#00c800"/>
<rect x="306" y="601" width="2" height="2" fill="#00c800"/>
<rect x="318" y="601" width="2" height="2" fill="#00c800"/>
<rect x="330" y="601" width="2" height="2" fill="#00c800"/>
<rect x="334" y="601" width="6" height="2" fill="#00c800"/>
<rect x="344" y="601" width="2" height="2" fill="#00c800"/>
<rect x="356" y="601" width="2" height="2" fill="#00c800"/>
<rect x="366" y="601" width="2" height="2" fill="#00c800"/>
<rect x="372" y="601" width="2" height="2" fill="#00c800"/>
<rect x="378" y="601" width="2" height="2" fill="#00c800"/>
<rect x="386" y="601" width="2" height="2" fill="#00c800"/>
<rect x="394" y="601" width="4" height="2" fill="#00c800"/>
<rect x="402" y="601" width="2" height="2" fill="#00c800"/>
<rect x="410" y="601" width="2" height="2" fill="#00c800"/>
<rect x="414" y="601" width="4" height="2" fill="#00c800"/>
<rect x="424" y="601" width="4" height="2" fill="#00c800"/>
<rect x="436" y="601" width="2" height="2" fill="#00c800"/>
<rect x="450" y="601" width="2" height="2" fill="#00c800"/>
<rect x="454" y="601" width="2" height="2" fill="#00c800"/>
<rect x="474" y="601" width="2" height="2" fill="#00c800"/>
<rect x="478" y="601" width="8" height="2" fill="#00c800"/>
<rect x="492" y="601" width="6" height="2" fill="#00c800"/>
<rect x="500" y="601" width="4" height="2" fill="#00c800"/>
<rect x="510" y="601" width="4" height="2" fill="#00c800"/>
<rect x="516" y="601" width="2" height="2" fill="#00c800"/>
<rect x="522" y="601" width="2" height="2" fill="#00c800"/>
<rect x="526" y="601" width="4" height="2" fill="#00c800"/>
<rect x="532" y="601" width="4" height="2" fill="#00c800"/>
<rect x="542" y="601" width="2" height="2" fill="#00c800"/>
<rect x="548" y="601" width="2" height="2" fill="#00c800"/>
<rect x="552" y="601" width="2" height="2" fill="#00c800"/>
<rect x="556" y="601" width="4" height="2" fill="#00c800"/>
<rect x="572" y="601" width="2" height="2" fill="#00c800"/>
<rect x="576" y="601" width="2" height="2" fill="#00c800"/>
<rect x="580" y="601" width="2" height="2" fill="#00c800"/>
<rect x="606" y="601" width="4" height="2" fill="#00c800"/>
<rect x="614" y="601" width="2" height="2" fill="#00c800"/>
<rect x="620" y="601" width="4" height="2" fill="#00c800"/>
<rect x="628" y="601" width="2" height="2" fill="#00c800"/>
<rect x="638" y="601" width="4" height="2" fill="#00c800"/>
<rect x="648" y="601" width="4" height="2" fill="#00c800"/>
<rect x="658" y="601" width="6" height="2" fill="#00c800"/>
<rect x="670" y="601" width="2" height="2" fill="#00c800"/>
<rect x="674" y="601" width="2" height="2" fill="#00c800"/>
<rect x="696" y="601" width="2" height="2" fill="#00c800"/>
<rect x="706" y="601" width="2" height="2" fill="#00c800"/>
<rect x="710" y="601" width="2" height="2" fill="#00c800"/>
<rect x="720" y="601" width="2" height="2" fill="#00c800"/>
<rect x="726" y="601" width="2" height="2" fill="#00c800"/>
<rect x="730" y="601" width="2" height="2" fill="#00c0ff"/>
<rect x="732" y="601" width="2" height="2" fill="#00c800"/>
<rect x="736" y="601" width="2" height="2" fill="#00c800"/>
<rect x="34" y="603" width="4" height="2" fill="#00c800"/>
<rect x="40" y="603" width="2" height="2" fill="#00c800"/>
<rect x="44" y="603" width="2" height="2" fill="#00c800"/>
<rect x="54" y="603" width="2" height="2" fill="#00c800"/>
<rect x="58" y="603" width="6" height="2" fill="#00c800"/>
<rect x="68" y="603" width="2" height="2" fill="#00c800"/>
<rect x="76" y="603" width="2" height="2" fill="#00c800"/>
<rect x="86" y="603" width="4" height="2" fill="#00c800"/>
<rect x="100" y="603" width="4" height="2" fill="#00c800"/>
<rect x="106" y="603" width="4" height="2" fill="#00c800"/>
<rect x="120" y="603" width="2" height="2" fill="#00c800"/>
<rect x="130" y="603" width="2" height="2" fill="#00c800"/>
<rect x="134" y="603" width="10" height="2" fill="#00c800"/>
<rect x="146" y="603" width="2" height="2" fill="#00c800"/>
<rect x="154" y="603" width="2" height="2" fill="#00c800"/>
<rect x="160" y="603" width="2" height="2" fill="#00c800"/>
<rect x="164" y="603" width="4" height="2" fill="#00c800"/>
<rect x="172" y="603" width="2" height="2" fill="#00c800"/>
<rect x="180" y="603" width="4" height="2" fill="#00c800"/>
<rect x="190" y="603" width="2" height="2" fill="#00c800"/>
<rect x="194" y="603" width="2" height="2" fill="#00c800"/>
<rect x="200" y="603" width="2" height="2" fill="#00c800"/>
<rect x="206" y="603" width="2" height="2" fill="#00c800"/>
<rect x="210" y="603" width="4" height="2" fill="#00c800"/>
<rect x="218" y="603" width="2" height="2" fill="#00c800"/>
<rect x="224" y="603" width="2" height="2" fill="#00c800"/>
<rect x="228" y="603" width="4" height="2" fill="#00c800"/>
<rect x="238" y="603" width="2" height="2" fill="#00c800"/>
<rect x="242" y="603" width="6" height="2" fill="#00c800"/>
<rect x="254" y="603" width="4" height="2" fill="#00c800"/>
<rect x="266" y="603" width="8" height="2" fill="#00c800"/>
<rect x="284" y="603" width="2" height="2" fill="#00c800"/>
<rect x="288" y="603" width="2" height="2" fill="#00c800"/>
<rect x="294" y="603" width="2" height="2" fill="#00c800"/>
<rect x="298" y="603" width="2" height="2" fill="#00c800"/>
<rect x="306" y="603" width="2" height="2" fill="#00c800"/>
<rect x="318" y="603" width="2" height="2" fill="#00c800"/>
<rect x="330" y="603" width="2" height="2" fill="#00c800"/>
<rect x="334" y="603" width="6" height="2" fill="#00c800"/>
<rect x="344" y="603" width="2" height="2" fill="#00c800"/>
<rect x="356" y="603" width="2" height="2" fill="#00c800"/>
<rect x="366" y="603" width="2" height="2" fill="#00c800"/>
<rect x="372" y="603" width="2" height="2" fill="#00c800"/>
<rect x="378" y="603" width="2" height="2" fill="#00c800"/>
<rect x="386" y="603" width="2" height="2" fill="#00c800"/>
<rect x="394" y="603" width="4" height="2" fill="#00c800"/>
<rect x="402" y="603" width="2" height="2" fill="#00c800"/>
<rect x="410" y="603" width="2" height="2" fill="#00c800"/>
<rect x="414" y="603" width="4" height="2" fill="#00c800"/>
<rect x="424" y="603" width="4" height="2" fill="#00c800"/>
<rect x="436" y="603" width="2" height="2" fill="#00c800"/>
<rect x="450" y="603" width="2" height="2" fill="#00c800"/>
<rect x="454" y="603" width="2" height="2" fill="#00c800"/>
<rect x="474" y="603" width="2" height="2" fill="#00c800"/>
<rect x="478" y="603" width="8" height="2" fill="#00c800"/>
<rect x="492" y="603" width="6" height="2" fill="#00c800"/>
<rect x="500" y="603" width="4" height="2" fill="#00c800"/>
<rect x="510" y="603" width="4" height="2" fill="#00c800"/>
<rect x="516" y="603" width="2" height="2" fill="#00c800"/>
<rect x="522" y="603" width="2" height="2" fill="#00c800"/>
<rect x="526" y="603" width="4" height="2" fill="#00c800"/>
<rect x="532" y="603" width="4" height="2" fill="#00c800"/>
<rect x="542" y="603" width="2" height="2" fill="#00c800"/>
<rect x="548" y="603" width="2" height="2" fill="#00c800"/>
<rect x="552" y="603" width="2" height="2" fill="#00c800"/>
<rect x="556" y="603" width="4" height="2" fill="#00c800"/>
<rect x="572" y="603" width="2" height="2" fill="#00c800"/>
<rect x="576" y="603" width="2" height="2" fill="#00c800"/>
<rect x="580" y="603" width="2" height="2" fill="#00c800"/>
<rect x="606" y="603" width="4" height="2" fill="#00c800"/>
<rect x="614" y="603" width="2" height="2" fill="#00c800"/>
<rect x="620" y="603" width="4" height="2" fill="#00c800"/>
<rect x="628" y="603" width="2" height="2" fill="#00c800"/>
<rect x="638" y="603" width="4" height="2" fill="#00c800"/>
<rect x="648" y="603" width="4" height="2" fill="#00c800"/>
<rect x="658" y="603" width="6" height="2" fill="#00c800"/>
<rect x="670" y="603" width="2" height="2" fill="#00c800"/>
<rect x="674" y="603" width="2" height="2" fill="#00c800"/>
<rect x="696" y="603" width="2" height="2" fill="#00c800"/>
<rect x="706" y="603" width="2" height="2" fill="#00c800"/>
<rect x="710" y="603" width="2" height="2" fill="#00c800"/>
<rect x="720" y="603" width="2" height="2" fill="#00c800"/>
<rect x="726" y="603" width="2" height="2" fill="#00c800"/>
<rect x="730" y="603" width="2" height="2" fill="#00c0ff"/>
<rect x="732" y="603" width="2" height="2" fill="#00c800"/>
<rect x="736" y="603" width="2" height="2" fill="#00c800"/>
<rect x="58" y="605" width="2" height="2" fill="#00ffff"/>
<rect x="76" y="605" width="2" height="2" fill="#00ffff"/>
<rect x="134" y="605" width="2" height="2" fill="#00ffff"/>
<rect x="180" y="605" width="2" height="2" fill="#00ffff"/>
<rect x="224" y="605" width="2" height="2" fill="#00c0ff"/>
<rect x="386" y="605" width="2" height="2" fill="#00ffff"/>
<rect x="410" y="605" width="2" height="2" fill="#00ffff"/>
<rect x="478" y="605" width="2" height="2" fill="#00ffff"/>
<rect x="492" y="605" width="2" height="2" fill="#00ffff"/>
<rect x="496" y="605" width="2" height="2" fill="#00ffff"/>
<rect x="580" y="605" width="2" height="2" fill="#00c0ff"/>
<rect x="608" y="605" width="2" height="2" fill="#00ffff"/>
<rect x="640" y="605" width="2" height="2" fill="#00ffff"/>
<rect x="62" y="607" width="2" height="2" fill="#00c0ff"/>
<rect x="402" y="645" width="2" height="2" fill="#00ffff"/>
<rect x="402" y="647" width="2" height="2" fill="#00ffff"/>
<rect x="404" y="647" width="2" height="2" fill="#00c0ff"/>
<rect x="402" y="649" width="2" height="2" fill="#00ffff"/>
<rect x="402" y="651" width="2" height="2" fill="#00ffff"/>
<rect x="402" y="653" width="2" height="2" fill="#00c0ff"/>
<rect x="404" y="653" width="2" height="2" fill="#00ffff"/>
<rect x="406" y="653" width="2" height="2" fill="#00c0ff"/>
<rect x="404" y="655" width="2" height="2" fill="#00ffff"/>
<rect x="406" y="655" width="2" height="2" fill="#00c0ff"/>
<rect x="404" y="657" width="4" height="2" fill="#00ffff"/>
<rect x="404" y="659" width="4" height="2" fill="#00ffff"/>
<rect x="408" y="659" width="2" height="2" fill="#00c0ff"/>
<rect x="404" y="661" width="6" height="2" fill="#00ffff"/>
<rect x="412" y="661" width="2" height="2" fill="#00c0ff"/>
<rect x="404" y="663" width="2" height="2" fill="#00c0ff"/>
<rect x="406" y="663" width="4" height="2" fill="#00ffff"/>
<rect x="410" y="663" width="4" height="2" fill="#00c0ff"/>
<rect x="414" y="663" width="2" height="2" fill="#00ffff"/>
<rect x="416" y="663" width="2" height="2" fill="#00c0ff"/>
<rect x="406" y="665" width="2" height="2" fill="#00c0ff"/>
<rect x="408" y="665" width="4" height="2" fill="#00ffff"/>
<rect x="412" y="665" width="2" height="2" fill="#00c0ff"/>
<rect x="414" y="665" width="4" height="2" fill="#00ffff"/>
<rect x="406" y="667" width="2" height="2" fill="#00c0ff"/>
<rect x="408" y="667" width="4" height="2" fill="#00ffff"/>
<rect x="412" y="667" width="2" height="2" fill="#00c0ff"/>
<rect x="414" y="667" width="4" height="2" fill="#00ffff"/>
<rect x="436" y="667" width="2" height="2" fill="#0000c8"/>
<rect x="448" y="667" width="2" height="2" fill="#00c0ff"/>
<rect x="408" y="669" width="8" height="2" fill="#00ffff"/>
<rect x="416" y="669" width="2" height="2" fill="#00c800"/>
<rect x="418" y="669" width="2" height="2" fill="#00c0ff"/>
<rect x="436" y="669" width="4" height="2" fill="#00c0ff"/>
<rect x="444" y="669" width="2" height="2" fill="#0000c8"/>
<rect x="448" y="669" width="2" height="2" fill="#00c0ff"/>
<rect x="408" y="671" width="8" height="2" fill="#00ffff"/>
<rect x="416" y="671" width="2" height="2" fill="#00c800"/>
<rect x="418" y="671" width="2" height="2" fill="#00ffff"/>
<rect x="422" y="671" width="2" height="2" fill="#00c0ff"/>
<rect x="436" y="671" width="8" height="2" fill="#00c0ff"/>
<rect x="448" y="671" width="4" height="2" fill="#00c0ff"/>
<rect x="408" y="673" width="2" height="2" fill="#0000c8"/>
<rect x="410" y="673" width="6" height="2" fill="#00ffff"/>
<rect x="416" y="673" width="2" height="2" fill="#00c800"/>
<rect x="418" y="673" width="2" height="2" fill="#00ffff"/>
<rect x="420" y="673" width="4" height="2" fill="#00c0ff"/>
<rect x="434" y="673" width="10" height="2" fill="#00c0ff"/>
<rect x="448" y="673" width="4" height="2" fill="#00c0ff"/>
<rect x="410" y="675" width="2" height="2" fill="#00c0ff"/>
<rect x="412" y="675" width="4" height="2" fill="#00ffff"/>
<rect x="416" y="675" width="2" height="2" fill="#00c800"/>
<rect x="418" y="675" width="2" height="2" fill="#00ffff"/>
<rect x="420" y="675" width="2" height="2" fill="#00c0ff"/>
<rect x="422" y="675" width="2" height="2" fill="#00ffff"/>
<rect x="432" y="675" width="12" height="2" fill="#00c0ff"/>
<rect x="444" y="675" width="2" height="2" fill="#0000c8"/>
<rect x="448" y="675" width="4" height="2" fill="#0000c8"/>
<rect x="412" y="677" width="4" height="2" fill="#00ffff"/>
<rect x="416" y="677" width="2" height="2" fill="#00c800"/>
<rect x="418" y="677" width="6" height="2" fill="#00ffff"/>
<rect x="424" y="677" width="2" height="2" fill="#00c0ff"/>
<rect x="430" y="677" width="6" height="2" fill="#00c0ff"/>
<rect x="436" y="677" width="2" height="2" fill="#00ffff"/>
<rect x="438" y="677" width="8" height="2" fill="#00c0ff"/>
<rect x="446" y="677" width="2" height="2" fill="#0000c8"/>
<rect x="412" y="679" width="2" height="2" fill="#00c0ff"/>
<rect x="414" y="679" width="2" height="2" fill="#00ffff"/>
<rect x="416" y="679" width="4" height="2" fill="#00c800"/>
<rect x="420" y="679" width="4" height="2" fill="#00ffff"/>
<rect x="424" y="679" width="2" height="2" fill="#00c0ff"/>
<rect x="428" y="679" width="8" height="2" fill="#00c0ff"/>
<rect x="436" y="679" width="2" height="2" fill="#00ffff"/>
<rect x="438" y="679" width="10" height="2" fill="#00c0ff"/>
<rect x="450" y="679" width="2" height="2" fill="#0000c8"/>
<rect x="412" y="681" width="2" height="2" fill="#00c0ff"/>
<rect x="414" y="681" width="2" height="2" fill="#00ffff"/>
<rect x="416" y="681" width="4" height="2" fill="#00c800"/>
<rect x="420" y="681" width="2" height="2" fill="#00ffff"/>
<rect x="422" y="681" width="2" height="2" fill="#00c800"/>
<rect x="424" y="681" width="2" height="2" fill="#00ffff"/>
<rect x="426" y="681" width="8" height="2" fill="#00c0ff"/>
<rect x="434" y="681" width="4" height="2" fill="#00ffff"/>
<rect x="438" y="681" width="14" height="2" fill="#00c0ff"/>
<rect x="414" y="683" width="2" height="2" fill="#00ffff"/>
<rect x="416" y="683" width="4" height="2" fill="#00c800"/>
<rect x="420" y="683" width="2" height="2" fill="#00ffff"/>
<rect x="422" y="683" width="2" height="2" fill="#00c800"/>
<rect x="424" y="683" width="4" height="2" fill="#00ffff"/>
<rect x="428" y="683" width="2" height="2" fill="#0000c8"/>
<rect x="430" y="683" width="8" height="2" fill="#00c0ff"/>
<rect x="438" y="683" width="2" height="2" fill="#0000c8"/>
<rect x="440" y="683" width="10" height="2" fill="#00c0ff"/>
<rect x="450" y="683" width="2" height="2" fill="#0000c8"/>
<rect x="414" y="685" width="2" height="2" fill="#00ffff"/>
<rect x="416" y="685" width="4" height="2" fill="#00c800"/>
<rect x="420" y="685" width="2" height="2" fill="#00ffff"/>
<rect x="422" y="685" width="2" height="2" fill="#00c800"/>
<rect x="424" y="685" width="4" height="2" fill="#00ffff"/>
<rect x="428" y="685" width="10" height="2" fill="#00c0ff"/>
<rect x="440" y="685" width="10" height="2" fill="#00c0ff"/>
<rect x="414" y="687" width="2" height="2" fill="#00c0ff"/>
<rect x="416" y="687" width="6" height="2" fill="#00ffff"/>
<rect x="422" y="687" width="2" height="2" fill="#00c800"/>
<rect x="424" y="687" width="2" height="2" fill="#00ffff"/>
<rect x="426" y="687" width="8" height="2" fill="#00c0ff"/>
<rect x="436" y="687" width="2" height="2" fill="#00c0ff"/>
<rect x="442" y="687" width="2" height="2" fill="#00c0ff"/>
<rect x="446" y="687" width="2" height="2" fill="#00c0ff"/>
<rect x="414" y="689" width="2" height="2" fill="#00c0ff"/>
<rect x="416" y="689" width="10" height="2" fill="#00ffff"/>
<rect x="426" y="689" width="8" height="2" fill="#00c0ff"/>
<rect x="438" y="689" width="2" height="2" fill="#0000c8"/>
<rect x="414" y="691" width="2" height="2" fill="#00c0ff"/>
<rect x="416" y="691" width="10" height="2" fill="#00ffff"/>
<rect x="426" y="691" width="4" height="2" fill="#00c0ff"/>
<rect x="430" y="691" width="2" height="2" fill="#00ffff"/>
<rect x="432" y="691" width="2" height="2" fill="#00c0ff"/>
<rect x="438" y="691" width="2" height="2" fill="#00c0ff"/>
<rect x="414" y="693" width="2" height="2" fill="#0000c8"/>
<rect x="416" y="693" width="10" height="2" fill="#00ffff"/>
<rect x="426" y="693" width="4" height="2" fill="#00c0ff"/>
<rect x="430" y="693" width="2" height="2" fill="#00ffff"/>
<rect x="432" y="693" width="2" height="2" fill="#00c0ff"/>
<rect x="438" y="693" width="2" height="2" fill="#00c0ff"/>
<rect x="416" y="695" width="6" height="2" fill="#00ffff"/>
<rect x="422" y="695" width="2" height="2" fill="#0000c8"/>
<rect x="424" y="695" width="2" height="2" fill="#00ffff"/>
<rect x="426" y="695" width="4" height="2" fill="#00c0ff"/>
<rect x="430" y="695" width="2" height="2" fill="#00ffff"/>
<rect x="432" y="695" width="4" height="2" fill="#00c0ff"/>
<rect x="438" y="695" width="2" height="2" fill="#00c0ff"/>
<rect x="416" y="697" width="4" height="2" fill="#00ffff"/>
<rect x="420" y="697" width="2" height="2" fill="#00c0ff"/>
<rect x="424" y="697" width="2" height="2" fill="#00c0ff"/>
<rect x="426" y="697" width="2" height="2" fill="#00ffff"/>
<rect x="428" y="697" width="8" height="2" fill="#00c0ff"/>
<rect x="438" y="697" width="2" height="2" fill="#0000c8"/>
<rect x="416" y="699" width="4" height="2" fill="#00c0ff"/>
<rect x="420" y="699" width="2" height="2" fill="#0000c8"/>
<rect x="424" y="699" width="2" height="2" fill="#00c0ff"/>
<rect x="426" y="699" width="2" height="2" fill="#00ffff"/>
<rect x="428" y="699" width="4" height="2" fill="#00c0ff"/>
<rect x="434" y="699" width="2" height="2" fill="#00c0ff"/>
<rect x="438" y="699" width="2" height="2" fill="#0000c8"/>
<rect x="418" y="701" width="2" height="2" fill="#0000c8"/>
<rect x="426" y="701" width="2" height="2" fill="#00c0ff"/>
<rect x="432" y="701" width="4" height="2" fill="#00c0ff"/>
<rect x="430" y="703" width="4" height="2" fill="#00c0ff"/>
<rect x="636" y="739" width="2" height="2" fill="#0000c8"/>
<rect x="650" y="739" width="2" height="2" fill="#0000c8"/>
<rect x="654" y="739" width="2" height="2" fill="#0000c8"/>
<rect x="636" y="741" width="2" height="2" fill="#0000c8"/>
<rect x="640" y="741" width="2" height="2" fill="#0000c8"/>
<rect x="650" y="741" width="8" height="2" fill="#0000c8"/>
<rect x="636" y="743" width="2" height="2" fill="#0000c8"/>
<rect x="640" y="743" width="2" height="2" fill="#0000c8"/>
<rect x="650" y="743" width="2" height="2" fill="#0000c8"/>
<rect x="652" y="743" width="4" height="2" fill="#00c0ff"/>
<rect x="656" y="743" width="2" height="2" fill="#0000c8"/>
<rect x="640" y="745" width="2" height="2" fill="#0000c8"/>
<rect x="650" y="745" width="4" height="2" fill="#0000c8"/>
<rect x="654" y="745" width="4" height="2" fill="#00c0ff"/>
<rect x="652" y="747" width="4" height="2" fill="#0000c8"/>
<rect x="656" y="747" width="2" height="2" fill="#00c0ff"/>
<rect x="390" y="753" width="2" height="2" fill="#0000c8"/>
<rect x="390" y="755" width="4" height="2" fill="#0000c8"/>
<rect x="436" y="755" width="2" height="2" fill="#0000c8"/>
<rect x="390" y="757" width="4" height="2" fill="#0000c8"/>
<rect x="394" y="757" width="2" height="2" fill="#ffffff"/>
<rect x="436" y="757" width="2" height="2" fill="#0000c8"/>
<rect x="650" y="757" width="2" height="2" fill="#ffffff"/>
<rect x="392" y="759" width="4" height="2" fill="#0000c8"/>
<rect x="436" y="759" width="2" height="2" fill="#0000c8"/>
<rect x="658" y="759" width="2" height="2" fill="#0000c8"/>
<rect x="392" y="761" width="4" height="2" fill="#0000c8"/>
<rect x="648" y="761" width="2" height="2" fill="#0000c8"/>
<rect x="650" y="761" width="2" height="2" fill="#ffffff"/>
<rect x="656" y="761" width="2" height="2" fill="#ffffff"/>
<rect x="658" y="761" width="2" height="2" fill="#0000c8"/>
<rect x="394" y="763" width="2" height="2" fill="#0000c8"/>
<rect x="648" y="763" width="4" height="2" fill="#0000c8"/>
<rect x="656" y="763" width="6" height="2" fill="#0000c8"/>
<rect x="394" y="765" width="2" height="2" fill="#ffffff"/>
<rect x="648" y="765" width="4" height="2" fill="#0000c8"/>
<rect x="656" y="765" width="2" height="2" fill="#00c0ff"/>
<rect x="658" y="765" width="4" height="2" fill="#0000c8"/>
<rect x="436" y="767" width="2" height="2" fill="#ffffff"/>
<rect x="648" y="767" width="2" height="2" fill="#0000c8"/>
<rect x="650" y="767" width="2" height="2" fill="#ffffff"/>
<rect x="656" y="767" width="2" height="2" fill="#00c0ff"/>
<rect x="658" y="767" width="2" height="2" fill="#0000c8"/>
<rect x="660" y="767" width="2" height="2" fill="#00c0ff"/>
<rect x="436" y="769" width="2" height="2" fill="#ffffff"/>
<rect x="646" y="769" width="2" height="2" fill="#ffffff"/>
<rect x="648" y="769" width="2" height="2" fill="#0000c8"/>
<rect x="650" y="769" width="2" height="2" fill="#ffffff"/>
<rect x="654" y="769" width="2" height="2" fill="#0000c8"/>
<rect x="656" y="769" width="6" height="2" fill="#00c0ff"/>
<rect x="646" y="771" width="4" height="2" fill="#0000c8"/>
<rect x="650" y="771" width="2" height="2" fill="#ffffff"/>
<rect x="654" y="771" width="2" height="2" fill="#0000c8"/>
<rect x="656" y="771" width="6" height="2" fill="#00c0ff"/>
<rect x="662" y="771" width="2" height="2" fill="#ffffff"/>
<rect x="666" y="771" width="2" height="2" fill="#ffffff"/>
<rect x="676" y="771" width="2" height="2" fill="#0000c8"/>
<rect x="678" y="771" width="2" height="2" fill="#ffffff"/>
<rect x="646" y="773" width="6" height="2" fill="#0000c8"/>
<rect x="654" y="773" width="2" height="2" fill="#0000c8"/>
<rect x="656" y="773" width="6" height="2" fill="#00c0ff"/>
<rect x="662" y="773" width="2" height="2" fill="#0000c8"/>
<rect x="666" y="773" width="2" height="2" fill="#ffffff"/>
<rect x="676" y="773" width="2" height="2" fill="#0000c8"/>
<rect x="678" y="773" width="2" height="2" fill="#ffffff"/>
<rect x="646" y="775" width="4" height="2" fill="#0000c8"/>
<rect x="650" y="775" width="2" height="2" fill="#ffffff"/>
<rect x="654" y="775" width="2" height="2" fill="#0000c8"/>
<rect x="656" y="775" width="6" height="2" fill="#00c0ff"/>
<rect x="662" y="775" width="2" height="2" fill="#0000c8"/>
<rect x="666" y="775" width="2" height="2" fill="#ffffff"/>
<rect x="676" y="775" width="2" height="2" fill="#0000c8"/>
<rect x="678" y="775" width="2" height="2" fill="#ffffff"/>
<rect x="646" y="777" width="2" height="2" fill="#ffffff"/>
<rect x="648" y="777" width="2" height="2" fill="#0000c8"/>
<rect x="650" y="777" width="2" height="2" fill="#ffffff"/>
<rect x="654" y="777" width="2" height="2" fill="#0000c8"/>
<rect x="656" y="777" width="6" height="2" fill="#00c0ff"/>
<rect x="662" y="777" width="2" height="2" fill="#0000c8"/>
<rect x="666" y="777" width="2" height="2" fill="#0000c8"/>
<rect x="668" y="777" width="2" height="2" fill="#ffffff"/>
<rect x="674" y="777" width="4" height="2" fill="#0000c8"/>
<rect x="678" y="777" width="2" height="2" fill="#ffffff"/>
<rect x="648" y="779" width="2" height="2" fill="#0000c8"/>
<rect x="650" y="779" width="2" height="2" fill="#ffffff"/>
<rect x="654" y="779" width="2" height="2" fill="#ffffff"/>
<rect x="656" y="779" width="2" height="2" fill="#0000c8"/>
<rect x="658" y="779" width="6" height="2" fill="#00c0ff"/>
<rect x="664" y="779" width="2" height="2" fill="#ffffff"/>
<rect x="666" y="779" width="4" height="2" fill="#0000c8"/>
<rect x="674" y="779" width="2" height="2" fill="#0000c8"/>
<rect x="676" y="779" width="2" height="2" fill="#00c0ff"/>
<rect x="678" y="779" width="2" height="2" fill="#ffffff"/>
<rect x="436" y="781" width="2" height="2" fill="#ffffff"/>
<rect x="648" y="781" width="2" height="2" fill="#0000c8"/>
<rect x="650" y="781" width="4" height="2" fill="#ffffff"/>
<rect x="656" y="781" width="2" height="2" fill="#0000c8"/>
<rect x="658" y="781" width="4" height="2" fill="#00c0ff"/>
<rect x="662" y="781" width="2" height="2" fill="#0000c8"/>
<rect x="668" y="781" width="2" height="2" fill="#0000c8"/>
<rect x="674" y="781" width="6" height="2" fill="#0000c8"/>
<rect x="436" y="783" width="2" height="2" fill="#ffffff"/>
<rect x="648" y="783" width="2" height="2" fill="#0000c8"/>
<rect x="650" y="783" width="4" height="2" fill="#ffffff"/>
<rect x="656" y="783" width="4" height="2" fill="#0000c8"/>
<rect x="660" y="783" width="2" height="2" fill="#00c0ff"/>
<rect x="662" y="783" width="2" height="2" fill="#0000c8"/>
<rect x="668" y="783" width="2" height="2" fill="#0000c8"/>
<rect x="672" y="783" width="8" height="2" fill="#0000c8"/>
<rect x="436" y="785" width="2" height="2" fill="#ffffff"/>
<rect x="648" y="785" width="2" height="2" fill="#0000c8"/>
<rect x="650" y="785" width="4" height="2" fill="#ffffff"/>
<rect x="656" y="785" width="6" height="2" fill="#0000c8"/>
<rect x="662" y="785" width="2" height="2" fill="#ffffff"/>
<rect x="672" y="785" width="2" height="2" fill="#0000c8"/>
<rect x="674" y="785" width="2" height="2" fill="#ffffff"/>
<rect x="676" y="785" width="4" height="2" fill="#0000c8"/>
<rect x="436" y="787" width="2" height="2" fill="#ffffff"/>
<rect x="648" y="787" width="2" height="2" fill="#0000c8"/>
<rect x="650" y="787" width="4" height="2" fill="#ffffff"/>
<rect x="656" y="787" width="6" height="2" fill="#0000c8"/>
<rect x="672" y="787" width="2" height="2" fill="#0000c8"/>
<rect x="674" y="787" width="2" height="2" fill="#ffffff"/>
<rect x="676" y="787" width="4" height="2" fill="#0000c8"/>
<rect x="680" y="787" width="2" height="2" fill="#ffffff"/>
<rect x="436" y="789" width="2" height="2" fill="#ffffff"/>
<rect x="648" y="789" width="2" height="2" fill="#0000c8"/>
<rect x="650" y="789" width="2" height="2" fill="#ffffff"/>
<rect x="652" y="789" width="2" height="2" fill="#0000c8"/>
<rect x="656" y="789" width="4" height="2" fill="#0000c8"/>
<rect x="672" y="789" width="2" height="2" fill="#0000c8"/>
<rect x="676" y="789" width="4" height="2" fill="#0000c8"/>
<rect x="436" y="791" width="4" height="2" fill="#0000c8"/>
<rect x="650" y="791" width="2" height="2" fill="#ffffff"/>
<rect x="652" y="791" width="2" height="2" fill="#0000c8"/>
<rect x="656" y="791" width="2" height="2" fill="#ffffff"/>
<rect x="672" y="791" width="2" height="2" fill="#ffffff"/>
<rect x="676" y="791" width="4" height="2" fill="#0000c8"/>
<rect x="434" y="793" width="6" height="2" fill="#0000c8"/>
<rect x="440" y="793" width="2" height="2" fill="#ffffff"/>
<rect x="650" y="793" width="2" height="2" fill="#ffffff"/>
<rect x="652" y="793" width="2" height="2" fill="#0000c8"/>
<rect x="676" y="793" width="4" height="2" fill="#0000c8"/>
<rect x="434" y="795" width="4" height="2" fill="#0000c8"/>
<rect x="438" y="795" width="2" height="2" fill="#00c0ff"/>
<rect x="440" y="795" width="2" height="2" fill="#ffffff"/>
<rect x="652" y="795" width="2" height="2" fill="#ffffff"/>
<rect x="676" y="795" width="4" height="2" fill="#ffffff"/>
<rect x="434" y="797" width="2" height="2" fill="#ffffff"/>
<rect x="436" y="797" width="2" height="2" fill="#0000c8"/>
<rect x="438" y="797" width="2" height="2" fill="#00c0ff"/>
<rect x="440" y="797" width="2" height="2" fill="#0000c8"/>
<rect x="674" y="797" width="6" height="2" fill="#ffffff"/>
<rect x="436" y="799" width="2" height="2" fill="#0000c8"/>
<rect x="438" y="799" width="2" height="2" fill="#00c0ff"/>
<rect x="440" y="799" width="2" height="2" fill="#0000c8"/>
<rect x="674" y="799" width="2" height="2" fill="#ffffff"/>
<rect x="678" y="799" width="2" height="2" fill="#0000c8"/>
<rect x="436" y="801" width="2" height="2" fill="#ffffff"/>
<rect x="438" y="801" width="4" height="2" fill="#0000c8"/>
<rect x="670" y="801" width="2" height="2" fill="#ffffff"/>
<rect x="674" y="801" width="2" height="2" fill="#ffffff"/>
<rect x="676" y="801" width="4" height="2" fill="#0000c8"/>
<rect x="438" y="803" width="2" height="2" fill="#ffffff"/>
<rect x="440" y="803" width="4" height="2" fill="#0000c8"/>
<rect x="668" y="803" width="4" height="2" fill="#0000c8"/>
<rect x="674" y="803" width="2" height="2" fill="#ffffff"/>
<rect x="676" y="803" width="6" height="2" fill="#0000c8"/>
<rect x="440" y="805" width="4" height="2" fill="#0000c8"/>
<rect x="668" y="805" width="2" height="2" fill="#0000c8"/>
<rect x="670" y="805" width="2" height="2" fill="#ffffff"/>
<rect x="676" y="805" width="4" height="2" fill="#00c0ff"/>
<rect x="680" y="805" width="2" height="2" fill="#0000c8"/>
<rect x="440" y="807" width="4" height="2" fill="#0000c8"/>
<rect x="444" y="807" width="2" height="2" fill="#ffffff"/>
<rect x="668" y="807" width="2" height="2" fill="#ffffff"/>
<rect x="676" y="807" width="4" height="2" fill="#0000c8"/>
<rect x="440" y="809" width="2" height="2" fill="#ffffff"/>
<rect x="442" y="809" width="4" height="2" fill="#0000c8"/>
<rect x="446" y="809" width="2" height="2" fill="#ffffff"/>
<rect x="676" y="809" width="4" height="2" fill="#0000c8"/>
<rect x="442" y="811" width="2" height="2" fill="#ffffff"/>
<rect x="444" y="811" width="4" height="2" fill="#0000c8"/>
<rect x="448" y="811" width="2" height="2" fill="#ffffff"/>
<rect x="676" y="811" width="2" height="2" fill="#ffffff"/>
<rect x="678" y="811" width="2" height="2" fill="#0000c8"/>
<rect x="444" y="813" width="2" height="2" fill="#ffffff"/>
<rect x="446" y="813" width="4" height="2" fill="#0000c8"/>
<rect x="678" y="813" width="2" height="2" fill="#ffffff"/>
<rect x="446" y="815" width="2" height="2" fill="#ffffff"/>
<rect x="448" y="815" width="4" height="2" fill="#0000c8"/>
<rect x="672" y="815" width="2" height="2" fill="#ffffff"/>
<rect x="678" y="815" width="2" height="2" fill="#0000c8"/>
<rect x="446" y="817" width="2" height="2" fill="#ffffff"/>
<rect x="448" y="817" width="4" height="2" fill="#0000c8"/>
<rect x="452" y="817" width="2" height="2" fill="#ffffff"/>
<rect x="672" y="817" width="2" height="2" fill="#ffffff"/>
<rect x="678" y="817" width="2" height="2" fill="#0000c8"/>
<rect x="680" y="817" width="2" height="2" fill="#ffffff"/>
<rect x="448" y="819" width="2" height="2" fill="#ffffff"/>
<rect x="450" y="819" width="4" height="2" fill="#0000c8"/>
<rect x="670" y="819" width="6" height="2" fill="#ffffff"/>
<rect x="678" y="819" width="4" height="2" fill="#0000c8"/>
<rect x="448" y="821" width="2" height="2" fill="#ffffff"/>
<rect x="450" y="821" width="4" height="2" fill="#0000c8"/>
<rect x="672" y="821" width="8" height="2" fill="#ffffff"/>
<rect x="680" y="821" width="2" height="2" fill="#0000c8"/>
<rect x="682" y="821" width="2" height="2" fill="#ffffff"/>
<rect x="450" y="823" width="6" height="2" fill="#0000c8"/>
<rect x="456" y="823" width="2" height="2" fill="#ffffff"/>
<rect x="672" y="823" width="4" height="2" fill="#ffffff"/>
<rect x="676" y="823" width="2" height="2" fill="#0000c8"/>
<rect x="678" y="823" width="4" height="2" fill="#ffffff"/>
<rect x="682" y="823" width="2" height="2" fill="#0000c8"/>
<rect x="684" y="823" width="2" height="2" fill="#ffffff"/>
<rect x="450" y="825" width="8" height="2" fill="#ffffff"/>
<rect x="672" y="825" width="6" height="2" fill="#ffffff"/>
<rect x="678" y="825" width="2" height="2" fill="#0000c8"/>
<rect x="680" y="825" width="2" height="2" fill="#ffffff"/>
<rect x="682" y="825" width="2" height="2" fill="#0000c8"/>
<rect x="684" y="825" width="2" height="2" fill="#ffffff"/>
<rect x="450" y="827" width="8" height="2" fill="#ffffff"/>
<rect x="674" y="827" width="4" height="2" fill="#ffffff"/>
<rect x="678" y="827" width="6" height="2" fill="#0000c8"/>
<rect x="684" y="827" width="4" height="2" fill="#ffffff"/>
<rect x="452" y="829" width="6" height="2" fill="#ffffff"/>
<rect x="674" y="829" width="4" height="2" fill="#ffffff"/>
<rect x="678" y="829" width="10" height="2" fill="#0000c8"/>
<rect x="688" y="829" width="2" height="2" fill="#ffffff"/>
<rect x="454" y="831" width="2" height="2" fill="#ffffff"/>
<rect x="676" y="831" width="2" height="2" fill="#ffffff"/>
<rect x="678" y="831" width="12" height="2" fill="#0000c8"/>
<rect x="456" y="833" width="4" height="2" fill="#ffffff"/>
<rect x="678" y="833" width="2" height="2" fill="#ffffff"/>
<rect x="680" y="833" width="12" height="2" fill="#0000c8"/>
<rect x="458" y="835" width="6" height="2" fill="#ffffff"/>
<rect x="678" y="835" width="2" height="2" fill="#ffffff"/>
<rect x="680" y="835" width="12" height="2" fill="#0000c8"/>
<rect x="692" y="835" width="2" height="2" fill="#ffffff"/>
<rect x="460" y="837" width="4" height="2" fill="#ffffff"/>
<rect x="680" y="837" width="14" height="2" fill="#ffffff"/>
<rect x="698" y="837" width="2" height="2" fill="#ffffff"/>
<rect x="458" y="839" width="8" height="2" fill="#ffffff"/>
<rect x="680" y="839" width="12" height="2" fill="#ffffff"/>
</g>
<rect x="78" y="837" width="2" height="5" fill="#fff"/>
<rect x="84" y="839" width="4" height="3" fill="#fff"/>
<rect x="88" y="837" width="4" height="5" fill="#fff"/>
<rect x="186" y="837" width="4" height="5" fill="#fff"/>
<rect x="192" y="839" width="2" height="3" fill="#fff"/>
<rect x="196" y="837" width="4" height="5" fill="#fff"/>
<rect x="292" y="837" width="6" height="5" fill="#fff"/>
<rect x="298" y="839" width="4" height="3" fill="#fff"/>
<rect x="303" y="838" width="2" height="4" fill="#fff"/>
<rect x="400" y="837" width="6" height="5" fill="#fff"/>
<rect x="408" y="838" width="4" height="4" fill="#fff"/>
<rect x="510" y="837" width="4" height="5" fill="#fff"/>
<rect x="510" y="839" width="12" height="3" fill="#fff"/>
<rect x="574" y="837" width="8" height="5" fill="#fff"/>
<rect x="698" y="837" width="2" height="5" fill="#fff"/>
<rect x="706" y="837" width="6" height="5" fill="#fff"/>
<rect x="30" y="25" width="720" height="1" fill="#000"/>
<rect x="30" y="40" width="720" height="1" fill="#000"/>
<rect x="30" y="100" width="720" height="1" fill="#000"/>
<rect x="30" y="160" width="720" height="1" fill="#000"/>
<rect x="30" y="220" width="720" height="1" fill="#000"/>
<rect x="30" y="280" width="720" height="1" fill="#000"/>
<rect x="30" y="25" width="1" height="256" fill="#000"/>
<rect x="210" y="25" width="1" height="256" fill="#000"/>
<rect x="390" y="25" width="1" height="256" fill="#000"/>
<rect x="570" y="25" width="1" height="256" fill="#000"/>
<rect x="749" y="25" width="1" height="256" fill="#000"/>
<rect x="30" y="306" width="720" height="1" fill="#000"/>
<rect x="30" y="321" width="720" height="1" fill="#000"/>
<rect x="30" y="381" width="720" height="1" fill="#000"/>
<rect x="30" y="441" width="720" height="1" fill="#000"/>
<rect x="30" y="501" width="720" height="1" fill="#000"/>
<rect x="30" y="561" width="720" height="1" fill="#000"/>
<rect x="30" y="306" width="1" height="256" fill="#000"/>
<rect x="210" y="306" width="1" height="256" fill="#000"/>
<rect x="390" y="306" width="1" height="256" fill="#000"/>
<rect x="570" y="306" width="1" height="256" fill="#000"/>
<rect x="749" y="306" width="1" height="256" fill="#000"/>
<rect x="30" y="587" width="720" height="1" fill="#000"/>
<rect x="30" y="602" width="720" height="1" fill="#000"/>
<rect x="30" y="662" width="720" height="1" fill="#000"/>
<rect x="30" y="722" width="720" height="1" fill="#000"/>
<rect x="30" y="782" width="720" height="1" fill="#000"/>
<rect x="30" y="842" width="720" height="1" fill="#000"/>
<rect x="30" y="587" width="1" height="256" fill="#000"/>
<rect x="210" y="587" width="1" height="256" fill="#000"/>
<rect x="390" y="587" width="1" height="256" fill="#000"/>
<rect x="570" y="587" width="1" height="256" fill="#000"/>
<rect x="749" y="587" width="1" height="256" fill="#000"/>
<rect x="784" y="78" width="31" height="13" fill="#ff00ff"/>
<rect x="784" y="91" width="31" height="14" fill="#ff0000"/>
<rect x="784" y="105" width="31" height="13" fill="#ff8000"/>
<rect x="784" y="118" width="31" height="14" fill="#ffff00"/>
<rect x="784" y="132" width="31" height="14" fill="#80ff00"/>
<rect x="784" y="146" width="31" height="13" fill="#00c800"/>
<rect x="784" y="159" width="31" height="14" fill="#00ffff"/>
<rect x="784" y="173" width="31" height="14" fill="#0080ff"/>
<rect x="784" y="187" width="31" height="13" fill="#0000ff"/>
<rect x="784" y="214" width="31" height="14" fill="#e0e0e0"/>
<rect x="784" y="359" width="31" height="9" fill="#000000"/>
<rect x="784" y="368" width="31" height="9" fill="#580058"/>
<rect x="784" y="377" width="31" height="10" fill="#b000b0"/>
<rect x="784" y="387" width="31" height="9" fill="#ff00ff"/>
<rect x="784" y="396" width="31" height="9" fill="#ff0078"/>
<rect x="784" y="405" width="31" height="10" fill="#ff0000"/>
<rect x="784" y="415" width="31" height="9" fill="#ff8000"/>
<rect x="784" y="424" width="31" height="10" fill="#ffff00"/>
<rect x="784" y="434" width="31" height="9" fill="#80ff40"/>
<rect x="784" y="443" width="31" height="9" fill="#00c800"/>
<rect x="784" y="452" width="31" height="10" fill="#0000ff"/>
<rect x="784" y="462" width="31" height="9" fill="#0080ff"/>
<rect x="784" y="471" width="31" height="9" fill="#00ffff"/>
<rect x="784" y="480" width="31" height="10" fill="#80ffff"/>
<rect x="784" y="499" width="31" height="10" fill="#e0e0e0"/>
<rect x="784" y="640" width="31" height="12" fill="#a040a0"/>
<rect x="784" y="652" width="31" height="13" fill="#e000e0"/>
<rect x="784" y="665" width="31" height="12" fill="#a000a0"/>
<rect x="784" y="677" width="31" height="13" fill="#ff0000"/>
<rect x="784" y="690" width="31" height="12" fill="#ff8000"/>
<rect x="784" y="702" width="31" height="13" fill="#ffff00"/>
<rect x="784" y="715" width="31" height="12" fill="#00c800"/>
<rect x="784" y="727" width="31" height="13" fill="#00ffff"/>
<rect x="784" y="740" width="31" height="12" fill="#00c0ff"/>
<rect x="784" y="752" width="31" height="13" fill="#0000c8"/>
<rect x="784" y="777" width="31" height="13" fill="#e0e0e0"/>
<rect x="1" y="95" width="24" height="1" fill="#000"/>
<rect x="1" y="370" width="24" height="1" fill="#000"/>
<rect x="1" y="664" width="24" height="1" fill="#000"/>
</svg>
<svg width="850" height="868" viewBox="0 0 850 868" style="position:absolute;left:0;top:0" fill="#000">
<text font-size="26" font-family="'Liberation Serif', serif" stroke="#000" stroke-width="0.6"><tspan x="241" y="20.4" textLength="48" lengthAdjust="spacingAndGlyphs">2025</tspan><tspan x="291" y="20.1" textLength="12" lengthAdjust="spacingAndGlyphs">-</tspan><tspan x="305" y="20.4" textLength="24" lengthAdjust="spacingAndGlyphs">12</tspan><tspan x="331" y="20.1" textLength="12" lengthAdjust="spacingAndGlyphs">-</tspan><tspan x="345" y="20.4" textLength="24" lengthAdjust="spacingAndGlyphs">04</tspan>  <tspan x="387" y="20.4" textLength="54" lengthAdjust="spacingAndGlyphs">17:00</tspan><tspan x="443" y="20.1" textLength="12" lengthAdjust="spacingAndGlyphs">-</tspan><tspan x="457" y="20.4" textLength="54" lengthAdjust="spacingAndGlyphs">18:00</tspan> <tspan x="517" y="20.4" textLength="46" lengthAdjust="spacingAndGlyphs">UTC</tspan></text>
<text x="31.2" y="294" font-size="12" font-family="'Liberation Sans', sans-serif" text-anchor="middle" textLength="27.5" lengthAdjust="spacingAndGlyphs">17:00</text>
<text x="211.2" y="294" font-size="12" font-family="'Liberation Sans', sans-serif" text-anchor="middle" textLength="27.5" lengthAdjust="spacingAndGlyphs">17:15</text>
<text x="391.2" y="294" font-size="12" font-family="'Liberation Sans', sans-serif" text-anchor="middle" textLength="27.5" lengthAdjust="spacingAndGlyphs">17:30</text>
<text x="571.2" y="294" font-size="12" font-family="'Liberation Sans', sans-serif" text-anchor="middle" textLength="27.5" lengthAdjust="spacingAndGlyphs">17:45</text>
<text x="751.2" y="294" font-size="12" font-family="'Liberation Sans', sans-serif" text-anchor="middle" textLength="27.5" lengthAdjust="spacingAndGlyphs">18:00</text>
<text x="31.2" y="574" font-size="12" font-family="'Liberation Sans', sans-serif" text-anchor="middle" textLength="27.5" lengthAdjust="spacingAndGlyphs">17:00</text>
<text x="211.2" y="574" font-size="12" font-family="'Liberation Sans', sans-serif" text-anchor="middle" textLength="27.5" lengthAdjust="spacingAndGlyphs">17:15</text>
<text x="391.2" y="574" font-size="12" font-family="'Liberation Sans', sans-serif" text-anchor="middle" textLength="27.5" lengthAdjust="spacingAndGlyphs">17:30</text>
<text x="571.2" y="574" font-size="12" font-family="'Liberation Sans', sans-serif" text-anchor="middle" textLength="27.5" lengthAdjust="spacingAndGlyphs">17:45</text>
<text x="751.2" y="574" font-size="12" font-family="'Liberation Sans', sans-serif" text-anchor="middle" textLength="27.5" lengthAdjust="spacingAndGlyphs">18:00</text>
<text x="31.2" y="854" font-size="12" font-family="'Liberation Sans', sans-serif" text-anchor="middle" textLength="27.5" lengthAdjust="spacingAndGlyphs">17:00</text>
<text x="211.2" y="854" font-size="12" font-family="'Liberation Sans', sans-serif" text-anchor="middle" textLength="27.5" lengthAdjust="spacingAndGlyphs">17:15</text>
<text x="391.2" y="854" font-size="12" font-family="'Liberation Sans', sans-serif" text-anchor="middle" textLength="27.5" lengthAdjust="spacingAndGlyphs">17:30</text>
<text x="571.2" y="854" font-size="12" font-family="'Liberation Sans', sans-serif" text-anchor="middle" textLength="27.5" lengthAdjust="spacingAndGlyphs">17:45</text>
<text x="751.2" y="854" font-size="12" font-family="'Liberation Sans', sans-serif" text-anchor="middle" textLength="27.5" lengthAdjust="spacingAndGlyphs">18:00</text>
<text x="753" y="47" font-size="13" font-family="'Liberation Serif', serif" textLength="25.5" lengthAdjust="spacingAndGlyphs">3 km</text>
<text x="753" y="126" font-size="13" font-family="'Liberation Serif', serif" textLength="25.5" lengthAdjust="spacingAndGlyphs">2 km</text>
<text x="753" y="207" font-size="13" font-family="'Liberation Serif', serif" textLength="25.5" lengthAdjust="spacingAndGlyphs">1 km</text>
<text x="753" y="285" font-size="13" font-family="'Liberation Serif', serif" textLength="25.5" lengthAdjust="spacingAndGlyphs">0 km</text>
<text x="753" y="325" font-size="13" font-family="'Liberation Serif', serif" textLength="25.5" lengthAdjust="spacingAndGlyphs">3 km</text>
<text x="753" y="404" font-size="13" font-family="'Liberation Serif', serif" textLength="25.5" lengthAdjust="spacingAndGlyphs">2 km</text>
<text x="753" y="487" font-size="13" font-family="'Liberation Serif', serif" textLength="25.5" lengthAdjust="spacingAndGlyphs">1 km</text>
<text x="753" y="565" font-size="13" font-family="'Liberation Serif', serif" textLength="25.5" lengthAdjust="spacingAndGlyphs">0 km</text>
<text x="753" y="607" font-size="13" font-family="'Liberation Serif', serif" textLength="25.5" lengthAdjust="spacingAndGlyphs">3 km</text>
<text x="753" y="686" font-size="13" font-family="'Liberation Serif', serif" textLength="25.5" lengthAdjust="spacingAndGlyphs">2 km</text>
<text x="753" y="767" font-size="13" font-family="'Liberation Serif', serif" textLength="25.5" lengthAdjust="spacingAndGlyphs">1 km</text>
<text x="753" y="845" font-size="13" font-family="'Liberation Serif', serif" textLength="25.5" lengthAdjust="spacingAndGlyphs">0 km</text>
<text x="800.5" y="76" font-size="13" font-family="'Liberation Serif', serif">m/s</text>
<text x="817.5" y="94" font-size="13.6" font-family="'Liberation Serif', serif" textLength="15" lengthAdjust="spacingAndGlyphs">8.0</text>
<text x="817.5" y="108" font-size="13.6" font-family="'Liberation Serif', serif" textLength="15" lengthAdjust="spacingAndGlyphs">7.0</text>
<text x="817.5" y="122" font-size="13.6" font-family="'Liberation Serif', serif" textLength="15" lengthAdjust="spacingAndGlyphs">6.0</text>
<text x="817.5" y="136" font-size="13.6" font-family="'Liberation Serif', serif" textLength="15" lengthAdjust="spacingAndGlyphs">5.0</text>
<text x="817.5" y="150" font-size="13.6" font-family="'Liberation Serif', serif" textLength="15" lengthAdjust="spacingAndGlyphs">4.0</text>
<text x="817.5" y="164" font-size="13.6" font-family="'Liberation Serif', serif" textLength="15" lengthAdjust="spacingAndGlyphs">3.0</text>
<text x="817.5" y="178" font-size="13.6" font-family="'Liberation Serif', serif" textLength="15" lengthAdjust="spacingAndGlyphs">2.0</text>
<text x="817.5" y="192" font-size="13.6" font-family="'Liberation Serif', serif" textLength="15" lengthAdjust="spacingAndGlyphs">1.0</text>
<text x="817.5" y="206" font-size="13.6" font-family="'Liberation Serif', serif" textLength="15" lengthAdjust="spacingAndGlyphs">0.0</text>
<text x="817.5" y="220" font-size="13" font-family="'Liberation Serif', serif">miss</text>
<text x="800.5" y="356" font-size="13" font-family="'Liberation Serif', serif" textLength="31.8" lengthAdjust="spacingAndGlyphs">mm/hr</text>
<text x="817.5" y="369" font-size="13.6" font-family="'Liberation Serif', serif" textLength="21" lengthAdjust="spacingAndGlyphs">48.0</text>
<text x="817.5" y="389" font-size="13.6" font-family="'Liberation Serif', serif" textLength="21" lengthAdjust="spacingAndGlyphs">12.0</text>
<text x="817.5" y="408" font-size="13.6" font-family="'Liberation Serif', serif" textLength="15" lengthAdjust="spacingAndGlyphs">6.0</text>
<text x="817.5" y="428" font-size="13.6" font-family="'Liberation Serif', serif" textLength="15" lengthAdjust="spacingAndGlyphs">3.0</text>
<text x="817.5" y="447" font-size="13.6" font-family="'Liberation Serif', serif" textLength="15" lengthAdjust="spacingAndGlyphs">1.5</text>
<text x="817.5" y="467" font-size="13.6" font-family="'Liberation Serif', serif" textLength="15" lengthAdjust="spacingAndGlyphs">0.5</text>
<text x="817.5" y="485" font-size="13.6" font-family="'Liberation Serif', serif" textLength="15" lengthAdjust="spacingAndGlyphs">0.1</text>
<text x="817.5" y="495" font-size="13.6" font-family="'Liberation Serif', serif" textLength="15" lengthAdjust="spacingAndGlyphs">0.0</text>
<text x="817.5" y="504" font-size="13" font-family="'Liberation Serif', serif">miss</text>
<text x="800.5" y="637" font-size="13" font-family="'Liberation Serif', serif" textLength="21.8" lengthAdjust="spacingAndGlyphs">dBZ</text>
<text x="818.5" y="657" font-size="13.6" font-family="'Liberation Serif', serif" textLength="21" lengthAdjust="spacingAndGlyphs">40.0</text>
<text x="818.5" y="669" font-size="13.6" font-family="'Liberation Serif', serif" textLength="21" lengthAdjust="spacingAndGlyphs">35.0</text>
<text x="818.5" y="682" font-size="13.6" font-family="'Liberation Serif', serif" textLength="21" lengthAdjust="spacingAndGlyphs">30.0</text>
<text x="818.5" y="694.5" font-size="13.6" font-family="'Liberation Serif', serif" textLength="21" lengthAdjust="spacingAndGlyphs">25.0</text>
<text x="818.5" y="707" font-size="13.6" font-family="'Liberation Serif', serif" textLength="21" lengthAdjust="spacingAndGlyphs">20.0</text>
<text x="818.5" y="720" font-size="13.6" font-family="'Liberation Serif', serif" textLength="21" lengthAdjust="spacingAndGlyphs">15.0</text>
<text x="818.5" y="733" font-size="13.6" font-family="'Liberation Serif', serif" textLength="21" lengthAdjust="spacingAndGlyphs">10.0</text>
<text x="818.5" y="745" font-size="13.6" font-family="'Liberation Serif', serif" textLength="15" lengthAdjust="spacingAndGlyphs">5.0</text>
<text x="818.5" y="757.5" font-size="13.6" font-family="'Liberation Serif', serif" textLength="15" lengthAdjust="spacingAndGlyphs">0.0</text>
<text y="770" font-size="13.6" font-family="'Liberation Serif', serif"><tspan x="818.5" textLength="8.5" lengthAdjust="spacingAndGlyphs">-</tspan><tspan x="826.0" textLength="15" lengthAdjust="spacingAndGlyphs">5.0</tspan></text>
<text x="818.5" y="779" font-size="13" font-family="'Liberation Serif', serif">none</text>
<text transform="translate(18.5,159) rotate(-90) scale(0.86,1)" font-size="24.5" font-family="'Liberation Serif', serif" text-anchor="middle" textLength="143.0" lengthAdjust="spacing" stroke="#000" stroke-width="0.3">Fall Velocity</text>
<text transform="translate(18.5,442.5) rotate(-90) scale(0.86,1)" font-size="24.5" font-family="'Liberation Serif', serif" text-anchor="middle" textLength="162.8" lengthAdjust="spacing" stroke="#000" stroke-width="0.3">Rain Intensity</text>
<text transform="translate(18.5,723.5) rotate(-90) scale(0.86,1)" font-size="24.5" font-family="'Liberation Serif', serif" text-anchor="middle" textLength="132.6" lengthAdjust="spacing" stroke="#000" stroke-width="0.3">Reflectivity</text>
</svg>
</body></html>
